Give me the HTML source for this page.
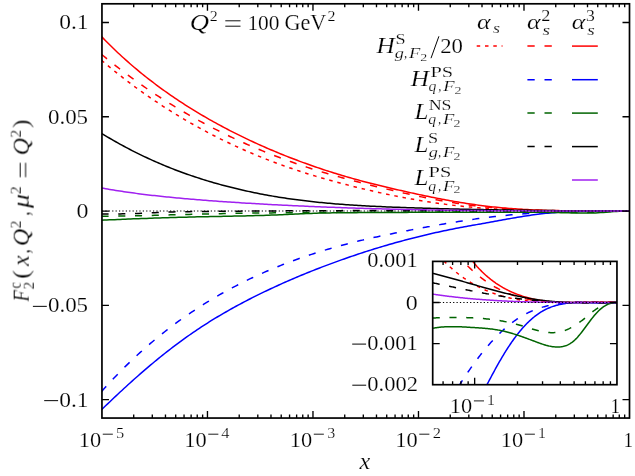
<!DOCTYPE html>
<html><head><meta charset="utf-8"><title>plot</title><style>html,body{margin:0;padding:0;background:#fff}svg{display:block}</style></head><body>
<svg width="635" height="476" viewBox="0 0 635 476">
<rect width="635" height="476" fill="#fff"/>
<defs><clipPath id="cm"><rect x="101.95" y="3.80" width="527.55" height="414.25"/></clipPath><clipPath id="ci"><rect x="432.70" y="261.40" width="184.25" height="123.30"/></clipPath></defs>
<g clip-path="url(#cm)" fill="none" stroke-width="1.50">
<path d="M101.50,60.25 L103.54,62.00 L105.58,63.72 L107.62,65.43 L109.65,67.12 L111.69,68.80 L113.73,70.46 L115.77,72.11 L117.81,73.74 L119.85,75.35 L121.89,76.95 L123.92,78.54 L125.96,80.11 L128.00,81.66 L130.04,83.21 L132.08,84.73 L134.12,86.24 L136.16,87.74 L138.19,89.23 L140.23,90.70 L142.27,92.16 L144.31,93.60 L146.35,95.03 L148.39,96.45 L150.43,97.85 L152.47,99.24 L154.50,100.62 L156.54,101.99 L158.58,103.34 L160.62,104.68 L162.66,106.01 L164.70,107.33 L166.74,108.63 L168.77,109.92 L170.81,111.20 L172.85,112.47 L174.89,113.72 L176.93,114.97 L178.97,116.20 L181.01,117.42 L183.04,118.63 L185.08,119.83 L187.12,121.02 L189.16,122.19 L191.20,123.36 L193.24,124.51 L195.28,125.66 L197.31,126.79 L199.35,127.91 L201.39,129.02 L203.43,130.12 L205.47,131.21 L207.51,132.29 L209.55,133.36 L211.58,134.42 L213.62,135.47 L215.66,136.50 L217.70,137.53 L219.74,138.55 L221.78,139.56 L223.82,140.56 L225.86,141.54 L227.89,142.52 L229.93,143.49 L231.97,144.45 L234.01,145.40 L236.05,146.34 L238.09,147.27 L240.13,148.19 L242.16,149.10 L244.20,150.01 L246.24,150.90 L248.28,151.78 L250.32,152.66 L252.36,153.53 L254.40,154.38 L256.43,155.23 L258.47,156.07 L260.51,156.90 L262.55,157.72 L264.59,158.53 L266.63,159.34 L268.67,160.13 L270.70,160.92 L272.74,161.70 L274.78,162.47 L276.82,163.23 L278.86,163.98 L280.90,164.72 L282.94,165.46 L284.97,166.19 L287.01,166.91 L289.05,167.62 L291.09,168.32 L293.13,169.01 L295.17,169.70 L297.21,170.38 L299.25,171.05 L301.28,171.71 L303.32,172.37 L305.36,173.02 L307.40,173.66 L309.44,174.29 L311.48,174.91 L313.52,175.53 L315.55,176.14 L317.59,176.74 L319.63,177.34 L321.67,177.93 L323.71,178.52 L325.75,179.09 L327.79,179.67 L329.82,180.24 L331.86,180.80 L333.90,181.35 L335.94,181.91 L337.98,182.45 L340.02,182.99 L342.06,183.53 L344.09,184.06 L346.13,184.59 L348.17,185.11 L350.21,185.63 L352.25,186.15 L354.29,186.66 L356.33,187.16 L358.36,187.66 L360.40,188.16 L362.44,188.65 L364.48,189.13 L366.52,189.62 L368.56,190.09 L370.60,190.57 L372.64,191.04 L374.67,191.50 L376.71,191.96 L378.75,192.41 L380.79,192.86 L382.83,193.31 L384.87,193.75 L386.91,194.18 L388.94,194.61 L390.98,195.04 L393.02,195.46 L395.06,195.87 L397.10,196.28 L399.14,196.69 L401.18,197.09 L403.21,197.48 L405.25,197.87 L407.29,198.25 L409.33,198.63 L411.37,199.00 L413.41,199.36 L415.45,199.72 L417.48,200.07 L419.52,200.42 L421.56,200.76 L423.60,201.10 L425.64,201.43 L427.68,201.75 L429.72,202.06 L431.75,202.37 L433.79,202.68 L435.83,202.98 L437.87,203.27 L439.91,203.55 L441.95,203.83 L443.99,204.10 L446.03,204.37 L448.06,204.63 L450.10,204.88 L452.14,205.12 L454.18,205.37 L456.22,205.60 L458.26,205.83 L460.30,206.05 L462.33,206.26 L464.37,206.47 L466.41,206.68 L468.45,206.87 L470.49,207.07 L472.53,207.25 L474.57,207.43 L476.60,207.61 L478.64,207.77 L480.68,207.94 L482.72,208.09 L484.76,208.24 L486.80,208.39 L488.84,208.53 L490.87,208.67 L492.91,208.80 L494.95,208.92 L496.99,209.04 L499.03,209.15 L501.07,209.26 L503.11,209.37 L505.14,209.47 L507.18,209.57 L509.22,209.66 L511.26,209.74 L513.30,209.83 L515.34,209.91 L517.38,209.98 L519.42,210.05 L521.45,210.12 L523.49,210.18 L525.53,210.24 L527.57,210.30 L529.61,210.35 L531.65,210.41 L533.69,210.45 L535.72,210.50 L537.76,210.54 L539.80,210.58 L541.84,210.62 L543.88,210.65 L545.92,210.68 L547.96,210.71 L549.99,210.74 L552.03,210.77 L554.07,210.79 L556.11,210.81 L558.15,210.83 L560.19,210.85 L562.23,210.87 L564.26,210.89 L566.30,210.93 L568.34,210.97 L570.38,211.00 L572.42,211.01 L574.46,211.03 L576.50,211.03 L578.53,211.04 L580.57,211.04 L582.61,211.05 L584.65,211.05 L586.69,211.05 L588.73,211.05 L590.77,211.05 L592.81,211.05 L594.84,211.05 L596.88,211.05 L598.92,211.05 L600.96,211.05 L603.00,211.05 L605.04,211.05 L607.08,211.05 L609.11,211.05 L611.15,211.05 L613.19,211.05 L615.23,211.05 L617.27,211.05 L619.31,211.05 L621.35,211.05 L623.38,211.05 L625.42,211.05 L627.46,211.05 L629.50,211.05" stroke="#ff0000" stroke-dasharray="3.5 4.87"/>
<path d="M101.50,54.32 L103.54,56.00 L105.58,57.68 L107.62,59.34 L109.65,60.98 L111.69,62.61 L113.73,64.23 L115.77,65.83 L117.81,67.42 L119.85,68.99 L121.89,70.55 L123.92,72.10 L125.96,73.63 L128.00,75.15 L130.04,76.66 L132.08,78.15 L134.12,79.63 L136.16,81.10 L138.19,82.55 L140.23,84.00 L142.27,85.43 L144.31,86.84 L146.35,88.25 L148.39,89.64 L150.43,91.02 L152.47,92.39 L154.50,93.75 L156.54,95.10 L158.58,96.43 L160.62,97.75 L162.66,99.06 L164.70,100.36 L166.74,101.65 L168.77,102.93 L170.81,104.20 L172.85,105.45 L174.89,106.70 L176.93,107.93 L178.97,109.15 L181.01,110.36 L183.04,111.57 L185.08,112.76 L187.12,113.94 L189.16,115.11 L191.20,116.27 L193.24,117.42 L195.28,118.56 L197.31,119.69 L199.35,120.81 L201.39,121.92 L203.43,123.02 L205.47,124.11 L207.51,125.19 L209.55,126.26 L211.58,127.32 L213.62,128.37 L215.66,129.41 L217.70,130.45 L219.74,131.47 L221.78,132.48 L223.82,133.49 L225.86,134.48 L227.89,135.47 L229.93,136.45 L231.97,137.42 L234.01,138.38 L236.05,139.33 L238.09,140.27 L240.13,141.20 L242.16,142.13 L244.20,143.04 L246.24,143.95 L248.28,144.85 L250.32,145.74 L252.36,146.62 L254.40,147.49 L256.43,148.35 L258.47,149.21 L260.51,150.06 L262.55,150.90 L264.59,151.73 L266.63,152.55 L268.67,153.37 L270.70,154.18 L272.74,154.97 L274.78,155.77 L276.82,156.55 L278.86,157.32 L280.90,158.09 L282.94,158.85 L284.97,159.60 L287.01,160.35 L289.05,161.08 L291.09,161.81 L293.13,162.53 L295.17,163.25 L297.21,163.95 L299.25,164.65 L301.28,165.34 L303.32,166.03 L305.36,166.70 L307.40,167.37 L309.44,168.04 L311.48,168.69 L313.52,169.34 L315.55,169.98 L317.59,170.61 L319.63,171.24 L321.67,171.86 L323.71,172.47 L325.75,173.08 L327.79,173.68 L329.82,174.27 L331.86,174.85 L333.90,175.43 L335.94,176.01 L337.98,176.58 L340.02,177.14 L342.06,177.70 L344.09,178.26 L346.13,178.81 L348.17,179.36 L350.21,179.90 L352.25,180.44 L354.29,180.97 L356.33,181.51 L358.36,182.03 L360.40,182.56 L362.44,183.08 L364.48,183.60 L366.52,184.12 L368.56,184.63 L370.60,185.15 L372.64,185.65 L374.67,186.16 L376.71,186.66 L378.75,187.16 L380.79,187.66 L382.83,188.15 L384.87,188.64 L386.91,189.13 L388.94,189.62 L390.98,190.10 L393.02,190.58 L395.06,191.06 L397.10,191.53 L399.14,192.00 L401.18,192.46 L403.21,192.92 L405.25,193.38 L407.29,193.84 L409.33,194.28 L411.37,194.73 L413.41,195.17 L415.45,195.61 L417.48,196.04 L419.52,196.47 L421.56,196.89 L423.60,197.31 L425.64,197.72 L427.68,198.12 L429.72,198.53 L431.75,198.92 L433.79,199.31 L435.83,199.69 L437.87,200.07 L439.91,200.44 L441.95,200.81 L443.99,201.16 L446.03,201.52 L448.06,201.86 L450.10,202.20 L452.14,202.53 L454.18,202.85 L456.22,203.17 L458.26,203.48 L460.30,203.78 L462.33,204.08 L464.37,204.37 L466.41,204.65 L468.45,204.92 L470.49,205.19 L472.53,205.45 L474.57,205.70 L476.60,205.94 L478.64,206.18 L480.68,206.41 L482.72,206.63 L484.76,206.85 L486.80,207.05 L488.84,207.26 L490.87,207.45 L492.91,207.64 L494.95,207.81 L496.99,207.99 L499.03,208.15 L501.07,208.31 L503.11,208.47 L505.14,208.61 L507.18,208.75 L509.22,208.89 L511.26,209.02 L513.30,209.14 L515.34,209.26 L517.38,209.37 L519.42,209.47 L521.45,209.57 L523.49,209.67 L525.53,209.76 L527.57,209.85 L529.61,209.93 L531.65,210.01 L533.69,210.08 L535.72,210.16 L537.76,210.22 L539.80,210.29 L541.84,210.35 L543.88,210.40 L545.92,210.46 L547.96,210.51 L549.99,210.56 L552.03,210.60 L554.07,210.64 L556.11,210.68 L558.15,210.72 L560.19,210.75 L562.23,210.78 L564.26,210.81 L566.30,210.84 L568.34,210.86 L570.38,210.88 L572.42,210.90 L574.46,210.95 L576.50,210.98 L578.53,211.01 L580.57,211.02 L582.61,211.03 L584.65,211.04 L586.69,211.04 L588.73,211.04 L590.77,211.05 L592.81,211.05 L594.84,211.05 L596.88,211.05 L598.92,211.05 L600.96,211.05 L603.00,211.05 L605.04,211.05 L607.08,211.05 L609.11,211.05 L611.15,211.05 L613.19,211.05 L615.23,211.05 L617.27,211.05 L619.31,211.05 L621.35,211.05 L623.38,211.05 L625.42,211.05 L627.46,211.05 L629.50,211.05" stroke="#ff0000" stroke-dasharray="7.1 9.65"/>
<path d="M101.50,36.53 L103.54,38.64 L105.58,40.73 L107.62,42.78 L109.65,44.81 L111.69,46.81 L113.73,48.79 L115.77,50.74 L117.81,52.67 L119.85,54.57 L121.89,56.44 L123.92,58.29 L125.96,60.12 L128.00,61.93 L130.04,63.71 L132.08,65.47 L134.12,67.21 L136.16,68.93 L138.19,70.63 L140.23,72.31 L142.27,73.97 L144.31,75.61 L146.35,77.23 L148.39,78.83 L150.43,80.41 L152.47,81.97 L154.50,83.52 L156.54,85.05 L158.58,86.56 L160.62,88.06 L162.66,89.53 L164.70,91.00 L166.74,92.44 L168.77,93.87 L170.81,95.29 L172.85,96.69 L174.89,98.07 L176.93,99.44 L178.97,100.79 L181.01,102.14 L183.04,103.46 L185.08,104.78 L187.12,106.08 L189.16,107.36 L191.20,108.63 L193.24,109.89 L195.28,111.14 L197.31,112.38 L199.35,113.60 L201.39,114.81 L203.43,116.01 L205.47,117.19 L207.51,118.37 L209.55,119.53 L211.58,120.68 L213.62,121.82 L215.66,122.95 L217.70,124.07 L219.74,125.18 L221.78,126.28 L223.82,127.36 L225.86,128.44 L227.89,129.50 L229.93,130.56 L231.97,131.60 L234.01,132.64 L236.05,133.67 L238.09,134.68 L240.13,135.69 L242.16,136.69 L244.20,137.67 L246.24,138.65 L248.28,139.62 L250.32,140.58 L252.36,141.53 L254.40,142.47 L256.43,143.41 L258.47,144.33 L260.51,145.25 L262.55,146.16 L264.59,147.05 L266.63,147.94 L268.67,148.83 L270.70,149.70 L272.74,150.56 L274.78,151.42 L276.82,152.27 L278.86,153.11 L280.90,153.94 L282.94,154.77 L284.97,155.59 L287.01,156.39 L289.05,157.20 L291.09,157.99 L293.13,158.78 L295.17,159.55 L297.21,160.32 L299.25,161.09 L301.28,161.84 L303.32,162.59 L305.36,163.33 L307.40,164.06 L309.44,164.79 L311.48,165.51 L313.52,166.22 L315.55,166.92 L317.59,167.62 L319.63,168.31 L321.67,168.99 L323.71,169.67 L325.75,170.34 L327.79,171.00 L329.82,171.65 L331.86,172.30 L333.90,172.94 L335.94,173.57 L337.98,174.20 L340.02,174.82 L342.06,175.43 L344.09,176.04 L346.13,176.64 L348.17,177.23 L350.21,177.81 L352.25,178.39 L354.29,178.96 L356.33,179.53 L358.36,180.09 L360.40,180.64 L362.44,181.19 L364.48,181.73 L366.52,182.26 L368.56,182.79 L370.60,183.31 L372.64,183.82 L374.67,184.33 L376.71,184.84 L378.75,185.34 L380.79,185.84 L382.83,186.33 L384.87,186.82 L386.91,187.30 L388.94,187.78 L390.98,188.26 L393.02,188.74 L395.06,189.21 L397.10,189.68 L399.14,190.14 L401.18,190.60 L403.21,191.06 L405.25,191.52 L407.29,191.97 L409.33,192.42 L411.37,192.87 L413.41,193.31 L415.45,193.75 L417.48,194.19 L419.52,194.63 L421.56,195.06 L423.60,195.48 L425.64,195.91 L427.68,196.33 L429.72,196.74 L431.75,197.16 L433.79,197.56 L435.83,197.97 L437.87,198.37 L439.91,198.76 L441.95,199.15 L443.99,199.54 L446.03,199.91 L448.06,200.29 L450.10,200.66 L452.14,201.02 L454.18,201.38 L456.22,201.73 L458.26,202.07 L460.30,202.41 L462.33,202.75 L464.37,203.07 L466.41,203.39 L468.45,203.70 L470.49,204.01 L472.53,204.31 L474.57,204.60 L476.60,204.88 L478.64,205.16 L480.68,205.43 L482.72,205.69 L484.76,205.94 L486.80,206.19 L488.84,206.43 L490.87,206.66 L492.91,206.89 L494.95,207.10 L496.99,207.31 L499.03,207.51 L501.07,207.71 L503.11,207.89 L505.14,208.07 L507.18,208.25 L509.22,208.41 L511.26,208.57 L513.30,208.72 L515.34,208.87 L517.38,209.00 L519.42,209.14 L521.45,209.26 L523.49,209.38 L525.53,209.49 L527.57,209.60 L529.61,209.70 L531.65,209.80 L533.69,209.89 L535.72,209.97 L537.76,210.05 L539.80,210.13 L541.84,210.20 L543.88,210.27 L545.92,210.33 L547.96,210.39 L549.99,210.44 L552.03,210.49 L554.07,210.54 L556.11,210.58 L558.15,210.62 L560.19,210.66 L562.23,210.70 L564.26,210.73 L566.30,210.76 L568.34,210.78 L570.38,210.81 L572.42,210.83 L574.46,210.85 L576.50,210.88 L578.53,210.94 L580.57,210.98 L582.61,211.00 L584.65,211.02 L586.69,211.03 L588.73,211.04 L590.77,211.04 L592.81,211.04 L594.84,211.05 L596.88,211.05 L598.92,211.05 L600.96,211.05 L603.00,211.05 L605.04,211.05 L607.08,211.05 L609.11,211.05 L611.15,211.05 L613.19,211.05 L615.23,211.05 L617.27,211.05 L619.31,211.05 L621.35,211.05 L623.38,211.05 L625.42,211.05 L627.46,211.05 L629.50,211.05" stroke="#ff0000"/>
<path d="M101.50,391.66 L103.54,389.37 L105.58,387.11 L107.62,384.87 L109.65,382.66 L111.69,380.47 L113.73,378.31 L115.77,376.17 L117.81,374.06 L119.85,371.98 L121.89,369.91 L123.92,367.88 L125.96,365.86 L128.00,363.87 L130.04,361.90 L132.08,359.96 L134.12,358.04 L136.16,356.14 L138.19,354.26 L140.23,352.40 L142.27,350.57 L144.31,348.76 L146.35,346.97 L148.39,345.19 L150.43,343.44 L152.47,341.71 L154.50,340.01 L156.54,338.32 L158.58,336.65 L160.62,334.99 L162.66,333.36 L164.70,331.75 L166.74,330.16 L168.77,328.58 L170.81,327.03 L172.85,325.49 L174.89,323.97 L176.93,322.46 L178.97,320.98 L181.01,319.51 L183.04,318.06 L185.08,316.63 L187.12,315.21 L189.16,313.81 L191.20,312.43 L193.24,311.06 L195.28,309.71 L197.31,308.37 L199.35,307.05 L201.39,305.75 L203.43,304.46 L205.47,303.18 L207.51,301.93 L209.55,300.68 L211.58,299.45 L213.62,298.24 L215.66,297.04 L217.70,295.85 L219.74,294.68 L221.78,293.52 L223.82,292.38 L225.86,291.25 L227.89,290.13 L229.93,289.03 L231.97,287.94 L234.01,286.86 L236.05,285.79 L238.09,284.74 L240.13,283.70 L242.16,282.68 L244.20,281.66 L246.24,280.66 L248.28,279.67 L250.32,278.69 L252.36,277.73 L254.40,276.77 L256.43,275.83 L258.47,274.90 L260.51,273.98 L262.55,273.07 L264.59,272.17 L266.63,271.28 L268.67,270.41 L270.70,269.54 L272.74,268.69 L274.78,267.84 L276.82,267.01 L278.86,266.19 L280.90,265.38 L282.94,264.57 L284.97,263.78 L287.01,263.00 L289.05,262.22 L291.09,261.46 L293.13,260.71 L295.17,259.96 L297.21,259.23 L299.25,258.50 L301.28,257.78 L303.32,257.08 L305.36,256.38 L307.40,255.69 L309.44,255.01 L311.48,254.34 L313.52,253.67 L315.55,253.02 L317.59,252.37 L319.63,251.73 L321.67,251.10 L323.71,250.48 L325.75,249.87 L327.79,249.26 L329.82,248.66 L331.86,248.07 L333.90,247.49 L335.94,246.92 L337.98,246.35 L340.02,245.79 L342.06,245.24 L344.09,244.69 L346.13,244.16 L348.17,243.63 L350.21,243.10 L352.25,242.59 L354.29,242.08 L356.33,241.58 L358.36,241.08 L360.40,240.59 L362.44,240.11 L364.48,239.63 L366.52,239.16 L368.56,238.70 L370.60,238.24 L372.64,237.79 L374.67,237.34 L376.71,236.90 L378.75,236.46 L380.79,236.02 L382.83,235.59 L384.87,235.16 L386.91,234.74 L388.94,234.32 L390.98,233.90 L393.02,233.48 L395.06,233.07 L397.10,232.66 L399.14,232.26 L401.18,231.85 L403.21,231.45 L405.25,231.05 L407.29,230.65 L409.33,230.26 L411.37,229.87 L413.41,229.48 L415.45,229.09 L417.48,228.71 L419.52,228.32 L421.56,227.94 L423.60,227.57 L425.64,227.19 L427.68,226.82 L429.72,226.45 L431.75,226.08 L433.79,225.71 L435.83,225.35 L437.87,224.99 L439.91,224.63 L441.95,224.28 L443.99,223.93 L446.03,223.58 L448.06,223.24 L450.10,222.90 L452.14,222.56 L454.18,222.23 L456.22,221.90 L458.26,221.58 L460.30,221.25 L462.33,220.94 L464.37,220.62 L466.41,220.32 L468.45,220.01 L470.49,219.71 L472.53,219.42 L474.57,219.13 L476.60,218.85 L478.64,218.57 L480.68,218.29 L482.72,218.02 L484.76,217.76 L486.80,217.50 L488.84,217.25 L490.87,217.00 L492.91,216.76 L494.95,216.53 L496.99,216.30 L499.03,216.07 L501.07,215.85 L503.11,215.64 L505.14,215.44 L507.18,215.23 L509.22,215.04 L511.26,214.85 L513.30,214.67 L515.34,214.49 L517.38,214.32 L519.42,214.15 L521.45,213.99 L523.49,213.84 L525.53,213.68 L527.57,213.53 L529.61,213.39 L531.65,213.24 L533.69,213.10 L535.72,212.97 L537.76,212.84 L539.80,212.71 L541.84,212.59 L543.88,212.47 L545.92,212.35 L547.96,212.24 L549.99,212.14 L552.03,212.04 L554.07,211.94 L556.11,211.85 L558.15,211.77 L560.19,211.69 L562.23,211.62 L564.26,211.55 L566.30,211.49 L568.34,211.43 L570.38,211.38 L572.42,211.34 L574.46,211.29 L576.50,211.26 L578.53,211.23 L580.57,211.20 L582.61,211.17 L584.65,211.15 L586.69,211.13 L588.73,211.12 L590.77,211.09 L592.81,211.08 L594.84,211.07 L596.88,211.06 L598.92,211.06 L600.96,211.06 L603.00,211.05 L605.04,211.05 L607.08,211.05 L609.11,211.05 L611.15,211.05 L613.19,211.05 L615.23,211.05 L617.27,211.05 L619.31,211.05 L621.35,211.05 L623.38,211.05 L625.42,211.05 L627.46,211.05 L629.50,211.05" stroke="#0000ff" stroke-dasharray="7.1 9.65"/>
<path d="M101.50,409.74 L103.54,407.77 L105.58,405.81 L107.62,403.86 L109.65,401.92 L111.69,399.98 L113.73,398.05 L115.77,396.13 L117.81,394.22 L119.85,392.32 L121.89,390.43 L123.92,388.55 L125.96,386.68 L128.00,384.82 L130.04,382.98 L132.08,381.14 L134.12,379.31 L136.16,377.50 L138.19,375.70 L140.23,373.91 L142.27,372.14 L144.31,370.38 L146.35,368.63 L148.39,366.89 L150.43,365.17 L152.47,363.47 L154.50,361.77 L156.54,360.09 L158.58,358.43 L160.62,356.78 L162.66,355.14 L164.70,353.52 L166.74,351.92 L168.77,350.33 L170.81,348.75 L172.85,347.19 L174.89,345.64 L176.93,344.11 L178.97,342.60 L181.01,341.10 L183.04,339.62 L185.08,338.15 L187.12,336.70 L189.16,335.26 L191.20,333.84 L193.24,332.43 L195.28,331.04 L197.31,329.67 L199.35,328.31 L201.39,326.96 L203.43,325.64 L205.47,324.32 L207.51,323.03 L209.55,321.74 L211.58,320.48 L213.62,319.22 L215.66,317.98 L217.70,316.75 L219.74,315.54 L221.78,314.34 L223.82,313.15 L225.86,311.98 L227.89,310.81 L229.93,309.66 L231.97,308.52 L234.01,307.39 L236.05,306.27 L238.09,305.16 L240.13,304.07 L242.16,302.98 L244.20,301.91 L246.24,300.84 L248.28,299.79 L250.32,298.74 L252.36,297.70 L254.40,296.68 L256.43,295.66 L258.47,294.65 L260.51,293.65 L262.55,292.66 L264.59,291.67 L266.63,290.70 L268.67,289.73 L270.70,288.77 L272.74,287.82 L274.78,286.88 L276.82,285.95 L278.86,285.02 L280.90,284.10 L282.94,283.19 L284.97,282.29 L287.01,281.39 L289.05,280.50 L291.09,279.62 L293.13,278.74 L295.17,277.87 L297.21,277.01 L299.25,276.15 L301.28,275.30 L303.32,274.46 L305.36,273.63 L307.40,272.80 L309.44,271.97 L311.48,271.16 L313.52,270.35 L315.55,269.54 L317.59,268.75 L319.63,267.96 L321.67,267.17 L323.71,266.39 L325.75,265.62 L327.79,264.85 L329.82,264.09 L331.86,263.34 L333.90,262.59 L335.94,261.85 L337.98,261.11 L340.02,260.38 L342.06,259.65 L344.09,258.93 L346.13,258.22 L348.17,257.51 L350.21,256.81 L352.25,256.12 L354.29,255.43 L356.33,254.74 L358.36,254.06 L360.40,253.39 L362.44,252.72 L364.48,252.06 L366.52,251.41 L368.56,250.76 L370.60,250.11 L372.64,249.48 L374.67,248.84 L376.71,248.22 L378.75,247.60 L380.79,246.98 L382.83,246.37 L384.87,245.77 L386.91,245.17 L388.94,244.58 L390.98,244.00 L393.02,243.42 L395.06,242.84 L397.10,242.27 L399.14,241.71 L401.18,241.16 L403.21,240.60 L405.25,240.06 L407.29,239.52 L409.33,238.99 L411.37,238.46 L413.41,237.94 L415.45,237.43 L417.48,236.92 L419.52,236.41 L421.56,235.91 L423.60,235.42 L425.64,234.94 L427.68,234.46 L429.72,233.98 L431.75,233.52 L433.79,233.05 L435.83,232.60 L437.87,232.15 L439.91,231.70 L441.95,231.26 L443.99,230.83 L446.03,230.40 L448.06,229.98 L450.10,229.57 L452.14,229.16 L454.18,228.76 L456.22,228.36 L458.26,227.97 L460.30,227.58 L462.33,227.20 L464.37,226.82 L466.41,226.45 L468.45,226.08 L470.49,225.72 L472.53,225.35 L474.57,224.99 L476.60,224.62 L478.64,224.26 L480.68,223.89 L482.72,223.53 L484.76,223.16 L486.80,222.79 L488.84,222.42 L490.87,222.06 L492.91,221.69 L494.95,221.32 L496.99,220.95 L499.03,220.58 L501.07,220.21 L503.11,219.84 L505.14,219.47 L507.18,219.11 L509.22,218.74 L511.26,218.38 L513.30,218.03 L515.34,217.68 L517.38,217.33 L519.42,216.99 L521.45,216.66 L523.49,216.33 L525.53,216.01 L527.57,215.70 L529.61,215.40 L531.65,215.11 L533.69,214.83 L535.72,214.56 L537.76,214.30 L539.80,214.05 L541.84,213.81 L543.88,213.59 L545.92,213.37 L547.96,213.17 L549.99,212.98 L552.03,212.80 L554.07,212.63 L556.11,212.48 L558.15,212.33 L560.19,212.20 L562.23,212.07 L564.26,211.96 L566.30,211.86 L568.34,211.76 L570.38,211.68 L572.42,211.60 L574.46,211.53 L576.50,211.47 L578.53,211.41 L580.57,211.36 L582.61,211.32 L584.65,211.28 L586.69,211.25 L588.73,211.22 L590.77,211.18 L592.81,211.14 L594.84,211.11 L596.88,211.09 L598.92,211.08 L600.96,211.07 L603.00,211.06 L605.04,211.06 L607.08,211.05 L609.11,211.05 L611.15,211.05 L613.19,211.05 L615.23,211.05 L617.27,211.05 L619.31,211.05 L621.35,211.05 L623.38,211.05 L625.42,211.05 L627.46,211.05 L629.50,211.05" stroke="#0000ff"/>
<path d="M101.50,216.20 L104.16,216.18 L106.81,216.15 L109.47,216.12 L112.12,216.09 L114.78,216.06 L117.43,216.03 L120.09,215.99 L122.74,215.95 L125.40,215.91 L128.05,215.87 L130.71,215.82 L133.36,215.78 L136.02,215.73 L138.67,215.68 L141.33,215.63 L143.99,215.58 L146.64,215.52 L149.30,215.45 L151.95,215.39 L154.61,215.32 L157.26,215.25 L159.92,215.18 L162.57,215.10 L165.23,215.02 L167.88,214.94 L170.54,214.86 L173.19,214.80 L175.85,214.73 L178.50,214.66 L181.16,214.60 L183.81,214.53 L186.47,214.47 L189.13,214.40 L191.78,214.33 L194.44,214.27 L197.09,214.20 L199.75,214.14 L202.40,214.08 L205.06,214.01 L207.71,213.95 L210.37,213.89 L213.02,213.83 L215.68,213.77 L218.33,213.71 L220.99,213.66 L223.64,213.60 L226.30,213.55 L228.96,213.49 L231.61,213.44 L234.27,213.39 L236.92,213.34 L239.58,213.30 L242.23,213.25 L244.89,213.21 L247.54,213.17 L250.20,213.13 L252.85,213.09 L255.51,213.05 L258.16,213.02 L260.82,212.99 L263.47,212.96 L266.13,212.93 L268.78,212.90 L271.44,212.88 L274.10,212.85 L276.75,212.82 L279.41,212.80 L282.06,212.77 L284.72,212.75 L287.37,212.72 L290.03,212.70 L292.68,212.68 L295.34,212.66 L297.99,212.64 L300.65,212.61 L303.30,212.59 L305.96,212.57 L308.61,212.55 L311.27,212.53 L313.93,212.52 L316.58,212.50 L319.24,212.48 L321.89,212.46 L324.55,212.45 L327.20,212.43 L329.86,212.41 L332.51,212.40 L335.17,212.38 L337.82,212.37 L340.48,212.35 L343.13,212.34 L345.79,212.32 L348.44,212.31 L351.10,212.29 L353.75,212.28 L356.41,212.27 L359.07,212.25 L361.72,212.24 L364.38,212.23 L367.03,212.22 L369.69,212.20 L372.34,212.19 L375.00,212.18 L377.65,212.17 L380.31,212.16 L382.96,212.15 L385.62,212.13 L388.27,212.12 L390.93,212.11 L393.58,212.10 L396.24,212.09 L398.90,212.08 L401.55,212.07 L404.21,212.06 L406.86,212.05 L409.52,212.04 L412.17,212.03 L414.83,212.02 L417.48,212.01 L420.14,212.00 L422.79,211.99 L425.45,211.98 L428.10,211.97 L430.76,211.96 L433.41,211.96 L436.07,211.95 L438.73,211.94 L441.38,211.93 L444.04,211.92 L446.69,211.91 L449.35,211.90 L452.00,211.89 L454.66,211.89 L457.31,211.88 L459.97,211.87 L462.62,211.86 L465.28,211.85 L467.93,211.84 L470.59,211.83 L473.24,211.83 L475.90,211.82 L478.55,211.81 L481.21,211.80 L483.87,211.79 L486.52,211.78 L489.18,211.78 L491.83,211.77 L494.49,211.76 L497.14,211.75 L499.80,211.74 L502.45,211.73 L505.11,211.72 L507.76,211.72 L510.42,211.72 L513.07,211.73 L515.73,211.74 L518.38,211.75 L521.04,211.76 L523.70,211.77 L526.35,211.78 L529.01,211.79 L531.66,211.80 L534.32,211.81 L536.97,211.84 L539.63,211.86 L542.28,211.89 L544.94,211.92 L547.59,211.95 L550.25,211.99 L552.90,212.03 L555.56,212.06 L558.21,212.11 L560.87,212.15 L563.52,212.20 L566.18,212.25 L568.84,212.29 L571.49,212.33 L574.15,212.37 L576.80,212.40 L579.46,212.42 L582.11,212.43 L584.77,212.42 L587.42,212.40 L590.08,212.36 L592.73,212.30 L595.39,212.23 L598.04,212.14 L600.70,212.03 L603.35,211.89 L606.01,211.75 L608.67,211.61 L611.32,211.47 L613.98,211.34 L616.63,211.23 L619.29,211.16 L621.94,211.10 L624.60,211.07 L627.25,211.05 L629.91,211.05" stroke="#006400" stroke-dasharray="7.1 9.65"/>
<path d="M101.50,220.20 L104.16,220.08 L106.81,219.97 L109.47,219.85 L112.12,219.74 L114.78,219.63 L117.43,219.52 L120.09,219.41 L122.74,219.30 L125.40,219.19 L128.05,219.08 L130.71,218.98 L133.36,218.87 L136.02,218.77 L138.67,218.67 L141.33,218.57 L143.99,218.47 L146.64,218.38 L149.30,218.28 L151.95,218.19 L154.61,218.09 L157.26,218.00 L159.92,217.91 L162.57,217.83 L165.23,217.74 L167.88,217.66 L170.54,217.58 L173.19,217.50 L175.85,217.42 L178.50,217.34 L181.16,217.27 L183.81,217.20 L186.47,217.13 L189.13,217.06 L191.78,217.00 L194.44,216.93 L197.09,216.87 L199.75,216.82 L202.40,216.76 L205.06,216.70 L207.71,216.65 L210.37,216.59 L213.02,216.54 L215.68,216.49 L218.33,216.43 L220.99,216.38 L223.64,216.33 L226.30,216.28 L228.96,216.22 L231.61,216.17 L234.27,216.12 L236.92,216.06 L239.58,216.00 L242.23,215.94 L244.89,215.88 L247.54,215.82 L250.20,215.76 L252.85,215.69 L255.51,215.62 L258.16,215.55 L260.82,215.48 L263.47,215.39 L266.13,215.31 L268.78,215.21 L271.44,215.11 L274.10,215.00 L276.75,214.89 L279.41,214.77 L282.06,214.65 L284.72,214.53 L287.37,214.41 L290.03,214.29 L292.68,214.16 L295.34,214.04 L297.99,213.92 L300.65,213.81 L303.30,213.69 L305.96,213.58 L308.61,213.48 L311.27,213.38 L313.93,213.28 L316.58,213.20 L319.24,213.12 L321.89,213.05 L324.55,212.99 L327.20,212.94 L329.86,212.90 L332.51,212.87 L335.17,212.84 L337.82,212.81 L340.48,212.78 L343.13,212.76 L345.79,212.73 L348.44,212.71 L351.10,212.68 L353.75,212.66 L356.41,212.64 L359.07,212.62 L361.72,212.60 L364.38,212.58 L367.03,212.56 L369.69,212.54 L372.34,212.53 L375.00,212.51 L377.65,212.50 L380.31,212.48 L382.96,212.47 L385.62,212.46 L388.27,212.45 L390.93,212.43 L393.58,212.42 L396.24,212.41 L398.90,212.40 L401.55,212.39 L404.21,212.39 L406.86,212.38 L409.52,212.37 L412.17,212.36 L414.83,212.36 L417.48,212.35 L420.14,212.34 L422.79,212.34 L425.45,212.33 L428.10,212.32 L430.76,212.32 L433.41,212.31 L436.07,212.31 L438.73,212.30 L441.38,212.30 L444.04,212.29 L446.69,212.29 L449.35,212.28 L452.00,212.28 L454.66,212.28 L457.31,212.27 L459.97,212.27 L462.62,212.26 L465.28,212.26 L467.93,212.25 L470.59,212.25 L473.24,212.24 L475.90,212.24 L478.55,212.23 L481.21,212.23 L483.87,212.22 L486.52,212.21 L489.18,212.21 L491.83,212.20 L494.49,212.19 L497.14,212.19 L499.80,212.18 L502.45,212.17 L505.11,212.16 L507.76,212.16 L510.42,212.16 L513.07,212.16 L515.73,212.17 L518.38,212.18 L521.04,212.20 L523.70,212.21 L526.35,212.22 L529.01,212.22 L531.66,212.22 L534.32,212.23 L536.97,212.25 L539.63,212.29 L542.28,212.33 L544.94,212.37 L547.59,212.41 L550.25,212.45 L552.90,212.49 L555.56,212.54 L558.21,212.59 L560.87,212.64 L563.52,212.70 L566.18,212.77 L568.84,212.84 L571.49,212.91 L574.15,212.97 L576.80,213.02 L579.46,213.06 L582.11,213.08 L584.77,213.09 L587.42,213.08 L590.08,213.06 L592.73,212.99 L595.39,212.90 L598.04,212.78 L600.70,212.62 L603.35,212.44 L606.01,212.22 L608.67,211.98 L611.32,211.76 L613.98,211.55 L616.63,211.38 L619.29,211.23 L621.94,211.14 L624.60,211.09 L627.25,211.06 L629.91,211.05" stroke="#006400"/>
<path d="M101.50,214.10 L104.16,214.10 L106.81,214.08 L109.47,214.06 L112.12,214.03 L114.78,214.00 L117.43,213.96 L120.09,213.91 L122.74,213.86 L125.40,213.80 L128.05,213.75 L130.71,213.68 L133.36,213.62 L136.02,213.55 L138.67,213.47 L141.33,213.37 L143.99,213.24 L146.64,213.09 L149.30,212.93 L151.95,212.78 L154.61,212.64 L157.26,212.52 L159.92,212.39 L162.57,212.27 L165.23,212.16 L167.88,212.05 L170.54,211.96 L173.19,211.90 L175.85,211.84 L178.50,211.79 L181.16,211.74 L183.81,211.70 L186.47,211.66 L189.13,211.63 L191.78,211.59 L194.44,211.56 L197.09,211.53 L199.75,211.50 L202.40,211.47 L205.06,211.45 L207.71,211.42 L210.37,211.39 L213.02,211.36 L215.68,211.34 L218.33,211.31 L220.99,211.29 L223.64,211.27 L226.30,211.24 L228.96,211.22 L231.61,211.20 L234.27,211.18 L236.92,211.16 L239.58,211.14 L242.23,211.12 L244.89,211.10 L247.54,211.08 L250.20,211.06 L252.85,211.04 L255.51,211.03 L258.16,211.01 L260.82,211.00 L263.47,210.98 L266.13,210.96 L268.78,210.95 L271.44,210.94 L274.10,210.92 L276.75,210.91 L279.41,210.89 L282.06,210.88 L284.72,210.87 L287.37,210.85 L290.03,210.84 L292.68,210.83 L295.34,210.82 L297.99,210.80 L300.65,210.79 L303.30,210.78 L305.96,210.77 L308.61,210.76 L311.27,210.75 L313.93,210.74 L316.58,210.73 L319.24,210.71 L321.89,210.70 L324.55,210.69 L327.20,210.68 L329.86,210.67 L332.51,210.66 L335.17,210.65 L337.82,210.64 L340.48,210.63 L343.13,210.62 L345.79,210.62 L348.44,210.61 L351.10,210.60 L353.75,210.59 L356.41,210.58 L359.07,210.57 L361.72,210.56 L364.38,210.55 L367.03,210.54 L369.69,210.53 L372.34,210.52 L375.00,210.51 L377.65,210.50 L380.31,210.49 L382.96,210.48 L385.62,210.47 L388.27,210.45 L390.93,210.44 L393.58,210.43 L396.24,210.42 L398.90,210.41 L401.55,210.40 L404.21,210.39 L406.86,210.38 L409.52,210.37 L412.17,210.36 L414.83,210.35 L417.48,210.34 L420.14,210.34 L422.79,210.33 L425.45,210.32 L428.10,210.31 L430.76,210.30 L433.41,210.29 L436.07,210.28 L438.73,210.28 L441.38,210.27 L444.04,210.26 L446.69,210.25 L449.35,210.25 L452.00,210.24 L454.66,210.23 L457.31,210.23 L459.97,210.22 L462.62,210.22 L465.28,210.21 L467.93,210.21 L470.59,210.20 L473.24,210.20 L475.90,210.20 L478.55,210.19 L481.21,210.19 L483.87,210.19 L486.52,210.19 L489.18,210.18 L491.83,210.18 L494.49,210.18 L497.14,210.19 L499.80,210.21 L502.45,210.25 L505.11,210.29 L507.76,210.32 L510.42,210.36 L513.07,210.39 L515.73,210.43 L518.38,210.46 L521.04,210.50 L523.70,210.53 L526.35,210.56 L529.01,210.59 L531.66,210.62 L534.32,210.65 L536.97,210.69 L539.63,210.72 L542.28,210.75 L544.94,210.78 L547.59,210.81 L550.25,210.84 L552.90,210.86 L555.56,210.88 L558.21,210.90 L560.87,210.92 L563.52,210.94 L566.18,210.96 L568.84,210.98 L571.49,210.99 L574.15,211.01 L576.80,211.02 L579.46,211.03 L582.11,211.03 L584.77,211.04 L587.42,211.05 L590.08,211.05 L592.73,211.05 L595.39,211.05 L598.04,211.05 L600.70,211.05 L603.35,211.05 L606.01,211.05 L608.67,211.05 L611.32,211.05 L613.98,211.05 L616.63,211.05 L619.29,211.05 L621.94,211.05 L624.60,211.05 L627.25,211.05 L629.91,211.05" stroke="#000000" stroke-dasharray="7.1 9.65"/>
<path d="M101.50,133.33 L103.54,134.58 L105.58,135.81 L107.62,137.03 L109.65,138.23 L111.69,139.42 L113.73,140.60 L115.77,141.76 L117.81,142.91 L119.85,144.04 L121.89,145.16 L123.92,146.26 L125.96,147.35 L128.00,148.43 L130.04,149.50 L132.08,150.55 L134.12,151.58 L136.16,152.61 L138.19,153.62 L140.23,154.62 L142.27,155.60 L144.31,156.57 L146.35,157.53 L148.39,158.48 L150.43,159.42 L152.47,160.34 L154.50,161.25 L156.54,162.14 L158.58,163.03 L160.62,163.90 L162.66,164.76 L164.70,165.61 L166.74,166.45 L168.77,167.27 L170.81,168.09 L172.85,168.89 L174.89,169.68 L176.93,170.46 L178.97,171.23 L181.01,171.99 L183.04,172.73 L185.08,173.47 L187.12,174.19 L189.16,174.91 L191.20,175.61 L193.24,176.30 L195.28,176.99 L197.31,177.66 L199.35,178.32 L201.39,178.97 L203.43,179.61 L205.47,180.25 L207.51,180.87 L209.55,181.48 L211.58,182.08 L213.62,182.68 L215.66,183.26 L217.70,183.83 L219.74,184.40 L221.78,184.95 L223.82,185.50 L225.86,186.04 L227.89,186.57 L229.93,187.09 L231.97,187.60 L234.01,188.10 L236.05,188.60 L238.09,189.08 L240.13,189.56 L242.16,190.03 L244.20,190.49 L246.24,190.94 L248.28,191.39 L250.32,191.83 L252.36,192.26 L254.40,192.68 L256.43,193.09 L258.47,193.50 L260.51,193.90 L262.55,194.29 L264.59,194.67 L266.63,195.05 L268.67,195.42 L270.70,195.78 L272.74,196.13 L274.78,196.48 L276.82,196.82 L278.86,197.15 L280.90,197.47 L282.94,197.79 L284.97,198.10 L287.01,198.41 L289.05,198.70 L291.09,198.99 L293.13,199.28 L295.17,199.55 L297.21,199.83 L299.25,200.09 L301.28,200.35 L303.32,200.60 L305.36,200.84 L307.40,201.08 L309.44,201.32 L311.48,201.55 L313.52,201.77 L315.55,201.99 L317.59,202.20 L319.63,202.41 L321.67,202.61 L323.71,202.80 L325.75,202.99 L327.79,203.18 L329.82,203.36 L331.86,203.54 L333.90,203.71 L335.94,203.88 L337.98,204.04 L340.02,204.20 L342.06,204.35 L344.09,204.50 L346.13,204.65 L348.17,204.79 L350.21,204.93 L352.25,205.07 L354.29,205.20 L356.33,205.33 L358.36,205.45 L360.40,205.57 L362.44,205.69 L364.48,205.80 L366.52,205.91 L368.56,206.02 L370.60,206.13 L372.64,206.23 L374.67,206.33 L376.71,206.43 L378.75,206.52 L380.79,206.61 L382.83,206.70 L384.87,206.79 L386.91,206.88 L388.94,206.96 L390.98,207.05 L393.02,207.13 L395.06,207.21 L397.10,207.29 L399.14,207.36 L401.18,207.44 L403.21,207.51 L405.25,207.58 L407.29,207.65 L409.33,207.72 L411.37,207.79 L413.41,207.86 L415.45,207.92 L417.48,207.99 L419.52,208.05 L421.56,208.11 L423.60,208.17 L425.64,208.23 L427.68,208.29 L429.72,208.35 L431.75,208.41 L433.79,208.46 L435.83,208.52 L437.87,208.57 L439.91,208.63 L441.95,208.68 L443.99,208.73 L446.03,208.79 L448.06,208.84 L450.10,208.89 L452.14,208.94 L454.18,208.99 L456.22,209.03 L458.26,209.08 L460.30,209.13 L462.33,209.17 L464.37,209.22 L466.41,209.27 L468.45,209.31 L470.49,209.35 L472.53,209.40 L474.57,209.44 L476.60,209.48 L478.64,209.52 L480.68,209.56 L482.72,209.60 L484.76,209.64 L486.80,209.68 L488.84,209.72 L490.87,209.76 L492.91,209.79 L494.95,209.83 L496.99,209.86 L499.03,209.90 L501.07,209.93 L503.11,209.97 L505.14,210.00 L507.18,210.03 L509.22,210.07 L511.26,210.10 L513.30,210.13 L515.34,210.16 L517.38,210.19 L519.42,210.22 L521.45,210.25 L523.49,210.27 L525.53,210.30 L527.57,210.33 L529.61,210.35 L531.65,210.38 L533.69,210.40 L535.72,210.43 L537.76,210.45 L539.80,210.48 L541.84,210.50 L543.88,210.52 L545.92,210.54 L547.96,210.56 L549.99,210.58 L552.03,210.60 L554.07,210.62 L556.11,210.64 L558.15,210.66 L560.19,210.67 L562.23,210.69 L564.26,210.71 L566.30,210.72 L568.34,210.74 L570.38,210.75 L572.42,210.77 L574.46,210.78 L576.50,210.79 L578.53,210.81 L580.57,210.82 L582.61,210.83 L584.65,210.85 L586.69,210.92 L588.73,210.96 L590.77,210.99 L592.81,211.01 L594.84,211.02 L596.88,211.03 L598.92,211.04 L600.96,211.04 L603.00,211.04 L605.04,211.05 L607.08,211.05 L609.11,211.05 L611.15,211.05 L613.19,211.05 L615.23,211.05 L617.27,211.05 L619.31,211.05 L621.35,211.05 L623.38,211.05 L625.42,211.05 L627.46,211.05 L629.50,211.05" stroke="#000000"/>
<path d="M101.50,187.93 L103.54,188.31 L105.58,188.67 L107.62,189.04 L109.65,189.39 L111.69,189.74 L113.73,190.07 L115.77,190.41 L117.81,190.73 L119.85,191.05 L121.89,191.36 L123.92,191.67 L125.96,191.97 L128.00,192.26 L130.04,192.55 L132.08,192.83 L134.12,193.11 L136.16,193.38 L138.19,193.64 L140.23,193.91 L142.27,194.16 L144.31,194.42 L146.35,194.66 L148.39,194.91 L150.43,195.15 L152.47,195.38 L154.50,195.61 L156.54,195.84 L158.58,196.06 L160.62,196.28 L162.66,196.50 L164.70,196.71 L166.74,196.92 L168.77,197.12 L170.81,197.33 L172.85,197.53 L174.89,197.72 L176.93,197.91 L178.97,198.10 L181.01,198.29 L183.04,198.48 L185.08,198.66 L187.12,198.84 L189.16,199.01 L191.20,199.19 L193.24,199.36 L195.28,199.53 L197.31,199.70 L199.35,199.86 L201.39,200.02 L203.43,200.18 L205.47,200.34 L207.51,200.50 L209.55,200.65 L211.58,200.80 L213.62,200.95 L215.66,201.10 L217.70,201.25 L219.74,201.39 L221.78,201.54 L223.82,201.68 L225.86,201.82 L227.89,201.96 L229.93,202.09 L231.97,202.23 L234.01,202.36 L236.05,202.49 L238.09,202.62 L240.13,202.75 L242.16,202.88 L244.20,203.00 L246.24,203.13 L248.28,203.25 L250.32,203.37 L252.36,203.49 L254.40,203.61 L256.43,203.73 L258.47,203.85 L260.51,203.96 L262.55,204.07 L264.59,204.19 L266.63,204.30 L268.67,204.41 L270.70,204.52 L272.74,204.63 L274.78,204.73 L276.82,204.84 L278.86,204.94 L280.90,205.05 L282.94,205.15 L284.97,205.25 L287.01,205.35 L289.05,205.45 L291.09,205.55 L293.13,205.64 L295.17,205.74 L297.21,205.83 L299.25,205.93 L301.28,206.02 L303.32,206.11 L305.36,206.20 L307.40,206.29 L309.44,206.38 L311.48,206.47 L313.52,206.55 L315.55,206.64 L317.59,206.72 L319.63,206.81 L321.67,206.89 L323.71,206.97 L325.75,207.05 L327.79,207.13 L329.82,207.21 L331.86,207.29 L333.90,207.36 L335.94,207.44 L337.98,207.52 L340.02,207.59 L342.06,207.66 L344.09,207.73 L346.13,207.81 L348.17,207.88 L350.21,207.94 L352.25,208.01 L354.29,208.08 L356.33,208.15 L358.36,208.21 L360.40,208.28 L362.44,208.34 L364.48,208.40 L366.52,208.46 L368.56,208.53 L370.60,208.59 L372.64,208.64 L374.67,208.70 L376.71,208.76 L378.75,208.82 L380.79,208.87 L382.83,208.93 L384.87,208.98 L386.91,209.03 L388.94,209.08 L390.98,209.13 L393.02,209.18 L395.06,209.23 L397.10,209.28 L399.14,209.33 L401.18,209.38 L403.21,209.42 L405.25,209.47 L407.29,209.51 L409.33,209.55 L411.37,209.59 L413.41,209.64 L415.45,209.68 L417.48,209.72 L419.52,209.76 L421.56,209.79 L423.60,209.83 L425.64,209.87 L427.68,209.90 L429.72,209.94 L431.75,209.97 L433.79,210.01 L435.83,210.04 L437.87,210.07 L439.91,210.10 L441.95,210.13 L443.99,210.16 L446.03,210.19 L448.06,210.22 L450.10,210.25 L452.14,210.27 L454.18,210.30 L456.22,210.33 L458.26,210.35 L460.30,210.38 L462.33,210.40 L464.37,210.42 L466.41,210.44 L468.45,210.47 L470.49,210.49 L472.53,210.51 L474.57,210.53 L476.60,210.55 L478.64,210.57 L480.68,210.58 L482.72,210.60 L484.76,210.62 L486.80,210.64 L488.84,210.65 L490.87,210.67 L492.91,210.68 L494.95,210.70 L496.99,210.71 L499.03,210.73 L501.07,210.74 L503.11,210.75 L505.14,210.77 L507.18,210.78 L509.22,210.79 L511.26,210.80 L513.30,210.81 L515.34,210.82 L517.38,210.83 L519.42,210.84 L521.45,210.85 L523.49,210.86 L525.53,210.87 L527.57,210.88 L529.61,210.88 L531.65,210.89 L533.69,210.90 L535.72,210.91 L537.76,210.91 L539.80,210.92 L541.84,210.93 L543.88,210.93 L545.92,210.94 L547.96,210.94 L549.99,210.95 L552.03,210.95 L554.07,210.96 L556.11,210.96 L558.15,210.97 L560.19,210.97 L562.23,210.98 L564.26,211.00 L566.30,211.02 L568.34,211.03 L570.38,211.04 L572.42,211.04 L574.46,211.04 L576.50,211.05 L578.53,211.05 L580.57,211.05 L582.61,211.05 L584.65,211.05 L586.69,211.05 L588.73,211.05 L590.77,211.05 L592.81,211.05 L594.84,211.05 L596.88,211.05 L598.92,211.05 L600.96,211.05 L603.00,211.05 L605.04,211.05 L607.08,211.05 L609.11,211.05 L611.15,211.05 L613.19,211.05 L615.23,211.05 L617.27,211.05 L619.31,211.05 L621.35,211.05 L623.38,211.05 L625.42,211.05 L627.46,211.05 L629.50,211.05" stroke="#a020f0"/>
<path d="M101.95,211.05 H629.50" stroke="#000" stroke-width="1.1" stroke-dasharray="1.25 2.15"/>
</g>
<path d="M133.71,418.05 v-3.50 M133.71,3.80 v3.50 M152.29,418.05 v-3.50 M152.29,3.80 v3.50 M165.47,418.05 v-3.50 M165.47,3.80 v3.50 M175.70,418.05 v-3.50 M175.70,3.80 v3.50 M184.05,418.05 v-3.50 M184.05,3.80 v3.50 M191.12,418.05 v-3.50 M191.12,3.80 v3.50 M197.24,418.05 v-3.50 M197.24,3.80 v3.50 M202.63,418.05 v-3.50 M202.63,3.80 v3.50 M207.46,418.05 v-7.00 M207.46,3.80 v7.00 M239.22,418.05 v-3.50 M239.22,3.80 v3.50 M257.80,418.05 v-3.50 M257.80,3.80 v3.50 M270.98,418.05 v-3.50 M270.98,3.80 v3.50 M281.21,418.05 v-3.50 M281.21,3.80 v3.50 M289.56,418.05 v-3.50 M289.56,3.80 v3.50 M296.63,418.05 v-3.50 M296.63,3.80 v3.50 M302.75,418.05 v-3.50 M302.75,3.80 v3.50 M308.14,418.05 v-3.50 M308.14,3.80 v3.50 M312.97,418.05 v-7.00 M312.97,3.80 v7.00 M344.73,418.05 v-3.50 M344.73,3.80 v3.50 M363.31,418.05 v-3.50 M363.31,3.80 v3.50 M376.49,418.05 v-3.50 M376.49,3.80 v3.50 M386.72,418.05 v-3.50 M386.72,3.80 v3.50 M395.07,418.05 v-3.50 M395.07,3.80 v3.50 M402.14,418.05 v-3.50 M402.14,3.80 v3.50 M408.26,418.05 v-3.50 M408.26,3.80 v3.50 M413.65,418.05 v-3.50 M413.65,3.80 v3.50 M418.48,418.05 v-7.00 M418.48,3.80 v7.00 M450.24,418.05 v-3.50 M450.24,3.80 v3.50 M468.82,418.05 v-3.50 M468.82,3.80 v3.50 M482.00,418.05 v-3.50 M482.00,3.80 v3.50 M492.23,418.05 v-3.50 M492.23,3.80 v3.50 M500.58,418.05 v-3.50 M500.58,3.80 v3.50 M507.65,418.05 v-3.50 M507.65,3.80 v3.50 M513.77,418.05 v-3.50 M513.77,3.80 v3.50 M519.16,418.05 v-3.50 M519.16,3.80 v3.50 M523.99,418.05 v-7.00 M523.99,3.80 v7.00 M555.75,418.05 v-3.50 M555.75,3.80 v3.50 M574.33,418.05 v-3.50 M574.33,3.80 v3.50 M587.51,418.05 v-3.50 M587.51,3.80 v3.50 M597.74,418.05 v-3.50 M597.74,3.80 v3.50 M606.09,418.05 v-3.50 M606.09,3.80 v3.50 M613.16,418.05 v-3.50 M613.16,3.80 v3.50 M619.28,418.05 v-3.50 M619.28,3.80 v3.50 M624.67,418.05 v-3.50 M624.67,3.80 v3.50 M101.95,399.65 h7.00 M629.50,399.65 h-7.00 M101.95,305.35 h7.00 M629.50,305.35 h-7.00 M101.95,211.05 h7.00 M629.50,211.05 h-7.00 M101.95,116.75 h7.00 M629.50,116.75 h-7.00 M101.95,22.45 h7.00 M629.50,22.45 h-7.00" stroke="#000" stroke-width="1.35" fill="none"/>
<rect x="101.95" y="3.80" width="527.55" height="414.25" fill="none" stroke="#000" stroke-width="1.70"/>
<rect x="432.70" y="261.40" width="184.25" height="123.30" fill="#fff"/>
<g clip-path="url(#ci)" fill="none" stroke-width="1.50">
<path d="M432.70,248.41 L433.63,249.54 L434.56,250.66 L435.49,251.76 L436.41,252.84 L437.34,253.91 L438.27,254.96 L439.20,255.99 L440.13,257.01 L441.06,258.02 L441.99,259.00 L442.92,259.97 L443.84,260.93 L444.77,261.87 L445.70,262.79 L446.63,263.71 L447.56,264.60 L448.49,265.48 L449.42,266.35 L450.34,267.20 L451.27,268.04 L452.20,268.86 L453.13,269.67 L454.06,270.46 L454.99,271.24 L455.92,272.01 L456.84,272.76 L457.77,273.50 L458.70,274.23 L459.63,274.95 L460.56,275.65 L461.49,276.34 L462.42,277.01 L463.35,277.67 L464.27,278.33 L465.20,278.96 L466.13,279.59 L467.06,280.21 L467.99,280.81 L468.92,281.40 L469.85,281.98 L470.77,282.55 L471.70,283.11 L472.63,283.65 L473.56,284.19 L474.49,284.71 L475.42,285.22 L476.35,285.73 L477.27,286.22 L478.20,286.70 L479.13,287.18 L480.06,287.64 L480.99,288.09 L481.92,288.53 L482.85,288.97 L483.78,289.39 L484.70,289.81 L485.63,290.21 L486.56,290.61 L487.49,291.00 L488.42,291.38 L489.35,291.75 L490.28,292.11 L491.20,292.46 L492.13,292.81 L493.06,293.15 L493.99,293.48 L494.92,293.80 L495.85,294.12 L496.78,294.42 L497.71,294.72 L498.63,295.02 L499.56,295.30 L500.49,295.58 L501.42,295.85 L502.35,296.12 L503.28,296.37 L504.21,296.62 L505.13,296.87 L506.06,297.10 L506.99,297.34 L507.92,297.56 L508.85,297.78 L509.78,297.99 L510.71,298.19 L511.63,298.39 L512.56,298.59 L513.49,298.77 L514.42,298.96 L515.35,299.13 L516.28,299.30 L517.21,299.47 L518.14,299.62 L519.06,299.78 L519.99,299.93 L520.92,300.07 L521.85,300.21 L522.78,300.34 L523.71,300.46 L524.64,300.59 L525.56,300.70 L526.49,300.82 L527.42,300.93 L528.35,301.03 L529.28,301.13 L530.21,301.22 L531.14,301.31 L532.06,301.40 L532.99,301.48 L533.92,301.56 L534.85,301.63 L535.78,301.70 L536.71,301.77 L537.64,301.83 L538.57,301.89 L539.49,301.94 L540.42,301.99 L541.35,302.04 L542.28,302.09 L543.21,302.13 L544.14,302.17 L545.07,302.20 L545.99,302.23 L546.92,302.26 L547.85,302.29 L548.78,302.31 L549.71,302.34 L550.64,302.35 L551.57,302.37 L552.49,302.38 L553.42,302.40 L554.35,302.41 L555.28,302.41 L556.21,302.42 L557.14,302.42 L558.07,302.42 L559.00,302.42 L559.92,302.42 L560.85,302.42 L561.78,302.41 L562.71,302.40 L563.64,302.40 L564.57,302.39 L565.50,302.38 L566.42,302.36 L567.35,302.35 L568.28,302.34 L569.21,302.32 L570.14,302.31 L571.07,302.29 L572.00,302.28 L572.93,302.26 L573.85,302.24 L574.78,302.22 L575.71,302.21 L576.64,302.19 L577.57,302.17 L578.50,302.15 L579.43,302.13 L580.35,302.11 L581.28,302.10 L582.21,302.08 L583.14,302.06 L584.07,302.04 L585.00,302.03 L585.93,302.01 L586.85,302.00 L587.78,301.99 L588.71,301.97 L589.64,301.96 L590.57,301.95 L591.50,301.94 L592.43,301.93 L593.36,301.93 L594.28,301.92 L595.21,301.92 L596.14,301.92 L597.07,301.91 L598.00,301.92 L598.93,301.92 L599.86,301.92 L600.78,301.93 L601.71,301.94 L602.64,301.95 L603.57,301.97 L604.50,301.98 L605.43,302.00 L606.36,302.02 L607.28,302.05 L608.21,302.07 L609.14,302.10 L610.07,302.14 L611.00,302.17 L611.93,302.21 L612.86,302.25 L613.79,302.30 L614.71,302.34 L615.64,302.39 L616.57,302.45 L617.50,302.51" stroke="#ff0000" stroke-dasharray="3.5 4.87"/>
<path d="M446.00,240.12 L446.86,241.33 L447.72,242.52 L448.59,243.69 L449.45,244.85 L450.31,245.99 L451.17,247.12 L452.03,248.24 L452.89,249.33 L453.76,250.42 L454.62,251.49 L455.48,252.54 L456.34,253.58 L457.20,254.61 L458.07,255.62 L458.93,256.62 L459.79,257.60 L460.65,258.57 L461.51,259.53 L462.37,260.47 L463.24,261.40 L464.10,262.32 L464.96,263.22 L465.82,264.11 L466.68,264.98 L467.55,265.84 L468.41,266.69 L469.27,267.53 L470.13,268.35 L470.99,269.16 L471.85,269.96 L472.72,270.74 L473.58,271.51 L474.44,272.27 L475.30,273.02 L476.16,273.75 L477.03,274.48 L477.89,275.19 L478.75,275.89 L479.61,276.58 L480.47,277.25 L481.33,277.91 L482.20,278.57 L483.06,279.21 L483.92,279.84 L484.78,280.46 L485.64,281.06 L486.51,281.66 L487.37,282.25 L488.23,282.82 L489.09,283.38 L489.95,283.94 L490.81,284.48 L491.68,285.01 L492.54,285.53 L493.40,286.04 L494.26,286.55 L495.12,287.04 L495.98,287.52 L496.85,287.99 L497.71,288.45 L498.57,288.90 L499.43,289.35 L500.29,289.78 L501.16,290.20 L502.02,290.62 L502.88,291.02 L503.74,291.42 L504.60,291.81 L505.46,292.19 L506.33,292.56 L507.19,292.92 L508.05,293.27 L508.91,293.61 L509.77,293.95 L510.64,294.28 L511.50,294.59 L512.36,294.91 L513.22,295.21 L514.08,295.50 L514.94,295.79 L515.81,296.07 L516.67,296.34 L517.53,296.61 L518.39,296.86 L519.25,297.11 L520.12,297.36 L520.98,297.59 L521.84,297.82 L522.70,298.04 L523.56,298.26 L524.42,298.46 L525.29,298.67 L526.15,298.86 L527.01,299.05 L527.87,299.23 L528.73,299.41 L529.60,299.58 L530.46,299.74 L531.32,299.90 L532.18,300.05 L533.04,300.20 L533.90,300.34 L534.77,300.47 L535.63,300.60 L536.49,300.72 L537.35,300.84 L538.21,300.96 L539.08,301.07 L539.94,301.17 L540.80,301.27 L541.66,301.36 L542.52,301.45 L543.38,301.54 L544.25,301.62 L545.11,301.69 L545.97,301.76 L546.83,301.83 L547.69,301.90 L548.56,301.96 L549.42,302.01 L550.28,302.06 L551.14,302.11 L552.00,302.16 L552.86,302.20 L553.73,302.23 L554.59,302.27 L555.45,302.30 L556.31,302.33 L557.17,302.35 L558.04,302.38 L558.90,302.40 L559.76,302.41 L560.62,302.43 L561.48,302.44 L562.34,302.45 L563.21,302.45 L564.07,302.46 L564.93,302.46 L565.79,302.46 L566.65,302.46 L567.52,302.46 L568.38,302.45 L569.24,302.45 L570.10,302.44 L570.96,302.43 L571.82,302.42 L572.69,302.40 L573.55,302.39 L574.41,302.38 L575.27,302.36 L576.13,302.35 L576.99,302.33 L577.86,302.31 L578.72,302.29 L579.58,302.28 L580.44,302.26 L581.30,302.24 L582.17,302.22 L583.03,302.20 L583.89,302.18 L584.75,302.16 L585.61,302.14 L586.47,302.12 L587.34,302.11 L588.20,302.09 L589.06,302.07 L589.92,302.05 L590.78,302.04 L591.65,302.02 L592.51,302.01 L593.37,302.00 L594.23,301.99 L595.09,301.98 L595.95,301.97 L596.82,301.96 L597.68,301.96 L598.54,301.95 L599.40,301.95 L600.26,301.95 L601.13,301.95 L601.99,301.96 L602.85,301.97 L603.71,301.97 L604.57,301.98 L605.43,302.00 L606.30,302.01 L607.16,302.03 L608.02,302.05 L608.88,302.08 L609.74,302.11 L610.61,302.14 L611.47,302.17 L612.33,302.21 L613.19,302.25 L614.05,302.29 L614.91,302.34 L615.78,302.39 L616.64,302.45 L617.50,302.50" stroke="#ff0000" stroke-dasharray="7.1 9.65"/>
<path d="M457.00,236.41 L457.81,237.98 L458.61,239.51 L459.42,241.01 L460.23,242.47 L461.03,243.90 L461.84,245.30 L462.65,246.67 L463.45,248.01 L464.26,249.32 L465.07,250.60 L465.87,251.85 L466.68,253.07 L467.48,254.26 L468.29,255.43 L469.10,256.57 L469.90,257.69 L470.71,258.77 L471.52,259.84 L472.32,260.88 L473.13,261.90 L473.94,262.89 L474.74,263.86 L475.55,264.81 L476.36,265.74 L477.16,266.65 L477.97,267.53 L478.78,268.40 L479.58,269.25 L480.39,270.08 L481.20,270.90 L482.00,271.69 L482.81,272.47 L483.62,273.24 L484.42,273.98 L485.23,274.72 L486.04,275.44 L486.84,276.14 L487.65,276.83 L488.45,277.51 L489.26,278.18 L490.07,278.83 L490.87,279.47 L491.68,280.09 L492.49,280.71 L493.29,281.31 L494.10,281.90 L494.91,282.47 L495.71,283.04 L496.52,283.59 L497.33,284.13 L498.13,284.66 L498.94,285.18 L499.75,285.69 L500.55,286.19 L501.36,286.67 L502.17,287.15 L502.97,287.61 L503.78,288.07 L504.59,288.51 L505.39,288.95 L506.20,289.37 L507.01,289.79 L507.81,290.19 L508.62,290.59 L509.42,290.98 L510.23,291.36 L511.04,291.73 L511.84,292.09 L512.65,292.44 L513.46,292.79 L514.26,293.13 L515.07,293.46 L515.88,293.78 L516.68,294.09 L517.49,294.40 L518.30,294.70 L519.10,294.99 L519.91,295.28 L520.72,295.56 L521.52,295.83 L522.33,296.09 L523.14,296.35 L523.94,296.60 L524.75,296.85 L525.56,297.08 L526.36,297.31 L527.17,297.54 L527.97,297.76 L528.78,297.97 L529.59,298.18 L530.39,298.38 L531.20,298.57 L532.01,298.76 L532.81,298.94 L533.62,299.12 L534.43,299.29 L535.23,299.46 L536.04,299.62 L536.85,299.77 L537.65,299.92 L538.46,300.06 L539.27,300.20 L540.07,300.34 L540.88,300.47 L541.69,300.59 L542.49,300.71 L543.30,300.83 L544.11,300.94 L544.91,301.04 L545.72,301.14 L546.53,301.24 L547.33,301.33 L548.14,301.42 L548.94,301.50 L549.75,301.58 L550.56,301.66 L551.36,301.73 L552.17,301.80 L552.98,301.87 L553.78,301.93 L554.59,301.99 L555.40,302.04 L556.20,302.09 L557.01,302.14 L557.82,302.18 L558.62,302.22 L559.43,302.26 L560.24,302.30 L561.04,302.33 L561.85,302.36 L562.66,302.39 L563.46,302.41 L564.27,302.43 L565.08,302.45 L565.88,302.47 L566.69,302.48 L567.49,302.50 L568.30,302.51 L569.11,302.52 L569.91,302.52 L570.72,302.53 L571.53,302.53 L572.33,302.53 L573.14,302.53 L573.95,302.53 L574.75,302.52 L575.56,302.52 L576.37,302.51 L577.17,302.51 L577.98,302.50 L578.79,302.49 L579.59,302.48 L580.40,302.47 L581.21,302.46 L582.01,302.44 L582.82,302.43 L583.63,302.42 L584.43,302.40 L585.24,302.39 L586.05,302.37 L586.85,302.36 L587.66,302.34 L588.46,302.33 L589.27,302.31 L590.08,302.30 L590.88,302.29 L591.69,302.27 L592.50,302.26 L593.30,302.24 L594.11,302.23 L594.92,302.22 L595.72,302.21 L596.53,302.20 L597.34,302.19 L598.14,302.18 L598.95,302.17 L599.76,302.17 L600.56,302.16 L601.37,302.16 L602.18,302.16 L602.98,302.16 L603.79,302.16 L604.60,302.16 L605.40,302.16 L606.21,302.17 L607.02,302.18 L607.82,302.19 L608.63,302.20 L609.43,302.22 L610.24,302.23 L611.05,302.25 L611.85,302.27 L612.66,302.30 L613.47,302.32 L614.27,302.35 L615.08,302.38 L615.89,302.42 L616.69,302.46 L617.50,302.50" stroke="#ff0000"/>
<path d="M450.00,400.80 L450.84,399.36 L451.68,397.92 L452.53,396.49 L453.37,395.07 L454.21,393.67 L455.05,392.27 L455.89,390.88 L456.73,389.50 L457.58,388.13 L458.42,386.78 L459.26,385.43 L460.10,384.09 L460.94,382.76 L461.78,381.45 L462.63,380.14 L463.47,378.84 L464.31,377.56 L465.15,376.28 L465.99,375.02 L466.83,373.76 L467.68,372.52 L468.52,371.28 L469.36,370.06 L470.20,368.85 L471.04,367.65 L471.88,366.46 L472.73,365.27 L473.57,364.10 L474.41,362.95 L475.25,361.80 L476.09,360.66 L476.93,359.53 L477.78,358.42 L478.62,357.31 L479.46,356.22 L480.30,355.14 L481.14,354.06 L481.98,353.00 L482.83,351.95 L483.67,350.92 L484.51,349.89 L485.35,348.87 L486.19,347.87 L487.04,346.87 L487.88,345.89 L488.72,344.92 L489.56,343.96 L490.40,343.01 L491.24,342.08 L492.09,341.15 L492.93,340.24 L493.77,339.34 L494.61,338.45 L495.45,337.57 L496.29,336.70 L497.14,335.84 L497.98,335.00 L498.82,334.17 L499.66,333.35 L500.50,332.54 L501.34,331.74 L502.19,330.96 L503.03,330.19 L503.87,329.43 L504.71,328.68 L505.55,327.94 L506.39,327.22 L507.24,326.50 L508.08,325.80 L508.92,325.12 L509.76,324.44 L510.60,323.78 L511.44,323.13 L512.29,322.49 L513.13,321.86 L513.97,321.25 L514.81,320.64 L515.65,320.05 L516.49,319.48 L517.34,318.91 L518.18,318.36 L519.02,317.82 L519.86,317.29 L520.70,316.78 L521.55,316.27 L522.39,315.78 L523.23,315.30 L524.07,314.83 L524.91,314.38 L525.75,313.93 L526.60,313.49 L527.44,313.07 L528.28,312.66 L529.12,312.25 L529.96,311.86 L530.80,311.48 L531.65,311.11 L532.49,310.74 L533.33,310.39 L534.17,310.05 L535.01,309.72 L535.85,309.40 L536.70,309.08 L537.54,308.78 L538.38,308.48 L539.22,308.20 L540.06,307.92 L540.90,307.65 L541.75,307.39 L542.59,307.14 L543.43,306.90 L544.27,306.67 L545.11,306.44 L545.95,306.22 L546.80,306.01 L547.64,305.81 L548.48,305.61 L549.32,305.43 L550.16,305.24 L551.01,305.07 L551.85,304.91 L552.69,304.75 L553.53,304.59 L554.37,304.45 L555.21,304.31 L556.06,304.17 L556.90,304.05 L557.74,303.93 L558.58,303.81 L559.42,303.70 L560.26,303.60 L561.11,303.50 L561.95,303.41 L562.79,303.32 L563.63,303.24 L564.47,303.16 L565.31,303.09 L566.16,303.02 L567.00,302.96 L567.84,302.90 L568.68,302.85 L569.52,302.80 L570.36,302.75 L571.21,302.71 L572.05,302.67 L572.89,302.64 L573.73,302.60 L574.57,302.58 L575.41,302.55 L576.26,302.53 L577.10,302.51 L577.94,302.50 L578.78,302.48 L579.62,302.47 L580.46,302.47 L581.31,302.46 L582.15,302.46 L582.99,302.46 L583.83,302.46 L584.67,302.46 L585.52,302.46 L586.36,302.47 L587.20,302.48 L588.04,302.49 L588.88,302.49 L589.72,302.50 L590.57,302.52 L591.41,302.53 L592.25,302.54 L593.09,302.55 L593.93,302.57 L594.77,302.58 L595.62,302.59 L596.46,302.61 L597.30,302.62 L598.14,302.63 L598.98,302.64 L599.82,302.65 L600.67,302.67 L601.51,302.67 L602.35,302.68 L603.19,302.69 L604.03,302.70 L604.87,302.70 L605.72,302.70 L606.56,302.71 L607.40,302.71 L608.24,302.70 L609.08,302.70 L609.92,302.69 L610.77,302.68 L611.61,302.67 L612.45,302.66 L613.29,302.64 L614.13,302.62 L614.97,302.59 L615.82,302.57 L616.66,302.54 L617.50,302.50" stroke="#0000ff" stroke-dasharray="7.1 9.65"/>
<path d="M478.00,402.00 L478.70,400.65 L479.40,399.30 L480.10,397.94 L480.80,396.59 L481.51,395.23 L482.21,393.88 L482.91,392.52 L483.61,391.17 L484.31,389.82 L485.01,388.47 L485.71,387.12 L486.41,385.78 L487.11,384.44 L487.81,383.10 L488.52,381.77 L489.22,380.44 L489.92,379.11 L490.62,377.79 L491.32,376.48 L492.02,375.17 L492.72,373.86 L493.42,372.57 L494.12,371.28 L494.82,369.99 L495.53,368.72 L496.23,367.45 L496.93,366.19 L497.63,364.94 L498.33,363.70 L499.03,362.46 L499.73,361.24 L500.43,360.03 L501.13,358.82 L501.83,357.63 L502.54,356.45 L503.24,355.28 L503.94,354.12 L504.64,352.98 L505.34,351.84 L506.04,350.72 L506.74,349.61 L507.44,348.51 L508.14,347.43 L508.84,346.36 L509.55,345.30 L510.25,344.25 L510.95,343.22 L511.65,342.20 L512.35,341.20 L513.05,340.21 L513.75,339.23 L514.45,338.27 L515.15,337.32 L515.85,336.39 L516.56,335.47 L517.26,334.57 L517.96,333.67 L518.66,332.80 L519.36,331.93 L520.06,331.08 L520.76,330.25 L521.46,329.42 L522.16,328.61 L522.86,327.82 L523.57,327.04 L524.27,326.27 L524.97,325.52 L525.67,324.78 L526.37,324.05 L527.07,323.34 L527.77,322.64 L528.47,321.96 L529.17,321.29 L529.87,320.63 L530.58,319.99 L531.28,319.36 L531.98,318.75 L532.68,318.14 L533.38,317.55 L534.08,316.98 L534.78,316.42 L535.48,315.87 L536.18,315.34 L536.88,314.82 L537.59,314.31 L538.29,313.82 L538.99,313.34 L539.69,312.87 L540.39,312.42 L541.09,311.98 L541.79,311.56 L542.49,311.15 L543.19,310.75 L543.89,310.36 L544.60,309.99 L545.30,309.63 L546.00,309.28 L546.70,308.94 L547.40,308.62 L548.10,308.30 L548.80,308.00 L549.50,307.71 L550.20,307.43 L550.90,307.16 L551.61,306.90 L552.31,306.65 L553.01,306.40 L553.71,306.17 L554.41,305.95 L555.11,305.74 L555.81,305.53 L556.51,305.33 L557.21,305.15 L557.91,304.97 L558.62,304.79 L559.32,304.63 L560.02,304.47 L560.72,304.32 L561.42,304.18 L562.12,304.04 L562.82,303.91 L563.52,303.79 L564.22,303.68 L564.92,303.57 L565.63,303.47 L566.33,303.37 L567.03,303.28 L567.73,303.19 L568.43,303.12 L569.13,303.04 L569.83,302.97 L570.53,302.91 L571.23,302.85 L571.93,302.80 L572.64,302.75 L573.34,302.71 L574.04,302.67 L574.74,302.64 L575.44,302.61 L576.14,302.58 L576.84,302.56 L577.54,302.54 L578.24,302.53 L578.94,302.51 L579.65,302.51 L580.35,302.50 L581.05,302.50 L581.75,302.50 L582.45,302.50 L583.15,302.50 L583.85,302.51 L584.55,302.52 L585.25,302.53 L585.95,302.55 L586.66,302.56 L587.36,302.58 L588.06,302.60 L588.76,302.61 L589.46,302.63 L590.16,302.66 L590.86,302.68 L591.56,302.70 L592.26,302.72 L592.96,302.74 L593.67,302.77 L594.37,302.79 L595.07,302.81 L595.77,302.84 L596.47,302.86 L597.17,302.88 L597.87,302.90 L598.57,302.92 L599.27,302.94 L599.97,302.95 L600.68,302.97 L601.38,302.98 L602.08,302.99 L602.78,303.00 L603.48,303.01 L604.18,303.02 L604.88,303.02 L605.58,303.02 L606.28,303.02 L606.98,303.02 L607.69,303.01 L608.39,303.00 L609.09,302.98 L609.79,302.97 L610.49,302.94 L611.19,302.92 L611.89,302.89 L612.59,302.86 L613.29,302.82 L613.99,302.78 L614.70,302.73 L615.40,302.68 L616.10,302.62 L616.80,302.56 L617.50,302.50" stroke="#0000ff"/>
<path d="M432.70,317.98 L433.63,317.95 L434.56,317.92 L435.49,317.89 L436.41,317.86 L437.34,317.83 L438.27,317.80 L439.20,317.78 L440.13,317.75 L441.06,317.73 L441.99,317.70 L442.92,317.68 L443.84,317.66 L444.77,317.64 L445.70,317.62 L446.63,317.60 L447.56,317.58 L448.49,317.57 L449.42,317.55 L450.34,317.54 L451.27,317.53 L452.20,317.52 L453.13,317.52 L454.06,317.51 L454.99,317.51 L455.92,317.50 L456.84,317.50 L457.77,317.51 L458.70,317.51 L459.63,317.52 L460.56,317.52 L461.49,317.53 L462.42,317.55 L463.35,317.56 L464.27,317.58 L465.20,317.60 L466.13,317.62 L467.06,317.65 L467.99,317.68 L468.92,317.71 L469.85,317.74 L470.77,317.78 L471.70,317.81 L472.63,317.86 L473.56,317.90 L474.49,317.95 L475.42,318.00 L476.35,318.05 L477.27,318.11 L478.20,318.17 L479.13,318.24 L480.06,318.30 L480.99,318.37 L481.92,318.45 L482.85,318.53 L483.78,318.61 L484.70,318.69 L485.63,318.78 L486.56,318.88 L487.49,318.97 L488.42,319.07 L489.35,319.18 L490.28,319.29 L491.20,319.40 L492.13,319.52 L493.06,319.64 L493.99,319.76 L494.92,319.89 L495.85,320.03 L496.78,320.17 L497.71,320.31 L498.63,320.46 L499.56,320.61 L500.49,320.77 L501.42,320.93 L502.35,321.10 L503.28,321.27 L504.21,321.45 L505.13,321.63 L506.06,321.81 L506.99,322.01 L507.92,322.20 L508.85,322.41 L509.78,322.61 L510.71,322.83 L511.63,323.05 L512.56,323.27 L513.49,323.50 L514.42,323.73 L515.35,323.98 L516.28,324.22 L517.21,324.47 L518.14,324.73 L519.06,325.00 L519.99,325.27 L520.92,325.54 L521.85,325.82 L522.78,326.10 L523.71,326.39 L524.64,326.68 L525.56,326.97 L526.49,327.26 L527.42,327.55 L528.35,327.84 L529.28,328.13 L530.21,328.42 L531.14,328.70 L532.06,328.98 L532.99,329.26 L533.92,329.53 L534.85,329.79 L535.78,330.05 L536.71,330.30 L537.64,330.54 L538.57,330.78 L539.49,331.00 L540.42,331.21 L541.35,331.41 L542.28,331.60 L543.21,331.78 L544.14,331.94 L545.07,332.09 L545.99,332.22 L546.92,332.34 L547.85,332.44 L548.78,332.52 L549.71,332.59 L550.64,332.64 L551.57,332.66 L552.49,332.67 L553.42,332.65 L554.35,332.62 L555.28,332.56 L556.21,332.48 L557.14,332.37 L558.07,332.24 L559.00,332.08 L559.92,331.90 L560.85,331.69 L561.78,331.45 L562.71,331.19 L563.64,330.90 L564.57,330.58 L565.50,330.24 L566.42,329.87 L567.35,329.49 L568.28,329.07 L569.21,328.64 L570.14,328.18 L571.07,327.69 L572.00,327.19 L572.93,326.66 L573.85,326.11 L574.78,325.55 L575.71,324.96 L576.64,324.35 L577.57,323.72 L578.50,323.07 L579.43,322.40 L580.35,321.72 L581.28,321.02 L582.21,320.30 L583.14,319.56 L584.07,318.81 L585.00,318.05 L585.93,317.28 L586.85,316.50 L587.78,315.72 L588.71,314.95 L589.64,314.18 L590.57,313.42 L591.50,312.67 L592.43,311.93 L593.36,311.21 L594.28,310.51 L595.21,309.84 L596.14,309.19 L597.07,308.57 L598.00,307.97 L598.93,307.41 L599.86,306.87 L600.78,306.36 L601.71,305.88 L602.64,305.43 L603.57,305.01 L604.50,304.62 L605.43,304.26 L606.36,303.93 L607.28,303.64 L608.21,303.37 L609.14,303.14 L610.07,302.94 L611.00,302.77 L611.93,302.63 L612.86,302.53 L613.79,302.47 L614.71,302.43 L615.64,302.43 L616.57,302.47 L617.50,302.54" stroke="#006400" stroke-dasharray="7.1 9.65"/>
<path d="M432.70,328.29 L433.63,328.12 L434.56,327.96 L435.49,327.81 L436.41,327.67 L437.34,327.54 L438.27,327.42 L439.20,327.31 L440.13,327.21 L441.06,327.12 L441.99,327.04 L442.92,326.97 L443.84,326.90 L444.77,326.84 L445.70,326.79 L446.63,326.75 L447.56,326.72 L448.49,326.69 L449.42,326.67 L450.34,326.65 L451.27,326.64 L452.20,326.64 L453.13,326.64 L454.06,326.65 L454.99,326.66 L455.92,326.68 L456.84,326.70 L457.77,326.73 L458.70,326.76 L459.63,326.79 L460.56,326.83 L461.49,326.87 L462.42,326.91 L463.35,326.96 L464.27,327.00 L465.20,327.05 L466.13,327.10 L467.06,327.16 L467.99,327.21 L468.92,327.26 L469.85,327.32 L470.77,327.38 L471.70,327.43 L472.63,327.49 L473.56,327.54 L474.49,327.60 L475.42,327.65 L476.35,327.71 L477.27,327.77 L478.20,327.83 L479.13,327.89 L480.06,327.96 L480.99,328.02 L481.92,328.09 L482.85,328.16 L483.78,328.24 L484.70,328.32 L485.63,328.40 L486.56,328.49 L487.49,328.58 L488.42,328.68 L489.35,328.78 L490.28,328.88 L491.20,328.99 L492.13,329.11 L493.06,329.24 L493.99,329.37 L494.92,329.50 L495.85,329.65 L496.78,329.80 L497.71,329.96 L498.63,330.12 L499.56,330.30 L500.49,330.48 L501.42,330.67 L502.35,330.87 L503.28,331.08 L504.21,331.29 L505.13,331.52 L506.06,331.75 L506.99,331.99 L507.92,332.24 L508.85,332.49 L509.78,332.75 L510.71,333.02 L511.63,333.29 L512.56,333.57 L513.49,333.85 L514.42,334.14 L515.35,334.44 L516.28,334.74 L517.21,335.04 L518.14,335.35 L519.06,335.66 L519.99,335.98 L520.92,336.30 L521.85,336.63 L522.78,336.95 L523.71,337.29 L524.64,337.62 L525.56,337.96 L526.49,338.30 L527.42,338.64 L528.35,338.98 L529.28,339.33 L530.21,339.67 L531.14,340.02 L532.06,340.37 L532.99,340.72 L533.92,341.07 L534.85,341.42 L535.78,341.77 L536.71,342.11 L537.64,342.46 L538.57,342.80 L539.49,343.13 L540.42,343.46 L541.35,343.78 L542.28,344.09 L543.21,344.39 L544.14,344.68 L545.07,344.96 L545.99,345.23 L546.92,345.48 L547.85,345.71 L548.78,345.94 L549.71,346.14 L550.64,346.33 L551.57,346.49 L552.49,346.64 L553.42,346.76 L554.35,346.87 L555.28,346.94 L556.21,347.00 L557.14,347.03 L558.07,347.03 L559.00,347.00 L559.92,346.94 L560.85,346.84 L561.78,346.71 L562.71,346.55 L563.64,346.34 L564.57,346.09 L565.50,345.79 L566.42,345.45 L567.35,345.07 L568.28,344.63 L569.21,344.14 L570.14,343.60 L571.07,343.00 L572.00,342.34 L572.93,341.63 L573.85,340.85 L574.78,340.01 L575.71,339.10 L576.64,338.15 L577.57,337.14 L578.50,336.08 L579.43,334.98 L580.35,333.85 L581.28,332.68 L582.21,331.49 L583.14,330.27 L584.07,329.03 L585.00,327.78 L585.93,326.52 L586.85,325.26 L587.78,324.00 L588.71,322.74 L589.64,321.49 L590.57,320.25 L591.50,319.04 L592.43,317.84 L593.36,316.68 L594.28,315.55 L595.21,314.45 L596.14,313.40 L597.07,312.39 L598.00,311.43 L598.93,310.53 L599.86,309.67 L600.78,308.86 L601.71,308.10 L602.64,307.38 L603.57,306.72 L604.50,306.11 L605.43,305.54 L606.36,305.02 L607.28,304.56 L608.21,304.13 L609.14,303.76 L610.07,303.44 L611.00,303.16 L611.93,302.93 L612.86,302.75 L613.79,302.62 L614.71,302.53 L615.64,302.49 L616.57,302.50 L617.50,302.56" stroke="#006400"/>
<path d="M432.70,282.79 L433.63,282.98 L434.56,283.18 L435.49,283.37 L436.41,283.57 L437.34,283.76 L438.27,283.96 L439.20,284.15 L440.13,284.35 L441.06,284.54 L441.99,284.74 L442.92,284.93 L443.84,285.13 L444.77,285.33 L445.70,285.52 L446.63,285.72 L447.56,285.91 L448.49,286.11 L449.42,286.30 L450.34,286.50 L451.27,286.69 L452.20,286.89 L453.13,287.08 L454.06,287.28 L454.99,287.47 L455.92,287.67 L456.84,287.86 L457.77,288.05 L458.70,288.24 L459.63,288.44 L460.56,288.63 L461.49,288.82 L462.42,289.01 L463.35,289.20 L464.27,289.39 L465.20,289.58 L466.13,289.77 L467.06,289.95 L467.99,290.14 L468.92,290.33 L469.85,290.51 L470.77,290.70 L471.70,290.88 L472.63,291.07 L473.56,291.25 L474.49,291.43 L475.42,291.61 L476.35,291.79 L477.27,291.97 L478.20,292.15 L479.13,292.33 L480.06,292.50 L480.99,292.68 L481.92,292.85 L482.85,293.02 L483.78,293.20 L484.70,293.37 L485.63,293.54 L486.56,293.71 L487.49,293.87 L488.42,294.04 L489.35,294.20 L490.28,294.37 L491.20,294.53 L492.13,294.69 L493.06,294.85 L493.99,295.01 L494.92,295.17 L495.85,295.32 L496.78,295.48 L497.71,295.63 L498.63,295.78 L499.56,295.93 L500.49,296.08 L501.42,296.22 L502.35,296.37 L503.28,296.51 L504.21,296.65 L505.13,296.79 L506.06,296.93 L506.99,297.07 L507.92,297.21 L508.85,297.34 L509.78,297.47 L510.71,297.60 L511.63,297.73 L512.56,297.86 L513.49,297.98 L514.42,298.11 L515.35,298.23 L516.28,298.35 L517.21,298.47 L518.14,298.59 L519.06,298.71 L519.99,298.82 L520.92,298.93 L521.85,299.05 L522.78,299.16 L523.71,299.26 L524.64,299.37 L525.56,299.48 L526.49,299.58 L527.42,299.68 L528.35,299.78 L529.28,299.88 L530.21,299.98 L531.14,300.08 L532.06,300.17 L532.99,300.26 L533.92,300.36 L534.85,300.45 L535.78,300.53 L536.71,300.62 L537.64,300.71 L538.57,300.79 L539.49,300.87 L540.42,300.95 L541.35,301.03 L542.28,301.11 L543.21,301.19 L544.14,301.26 L545.07,301.33 L545.99,301.40 L546.92,301.47 L547.85,301.54 L548.78,301.61 L549.71,301.68 L550.64,301.74 L551.57,301.80 L552.49,301.86 L553.42,301.92 L554.35,301.98 L555.28,302.04 L556.21,302.09 L557.14,302.15 L558.07,302.20 L559.00,302.25 L559.92,302.30 L560.85,302.34 L561.78,302.39 L562.71,302.44 L563.64,302.48 L564.57,302.52 L565.50,302.56 L566.42,302.60 L567.35,302.64 L568.28,302.67 L569.21,302.71 L570.14,302.74 L571.07,302.77 L572.00,302.80 L572.93,302.83 L573.85,302.85 L574.78,302.88 L575.71,302.90 L576.64,302.93 L577.57,302.95 L578.50,302.97 L579.43,302.98 L580.35,303.00 L581.28,303.02 L582.21,303.03 L583.14,303.04 L584.07,303.05 L585.00,303.06 L585.93,303.07 L586.85,303.08 L587.78,303.08 L588.71,303.08 L589.64,303.09 L590.57,303.09 L591.50,303.09 L592.43,303.08 L593.36,303.08 L594.28,303.08 L595.21,303.07 L596.14,303.06 L597.07,303.05 L598.00,303.04 L598.93,303.03 L599.86,303.02 L600.78,303.00 L601.71,302.99 L602.64,302.97 L603.57,302.95 L604.50,302.93 L605.43,302.91 L606.36,302.88 L607.28,302.86 L608.21,302.83 L609.14,302.80 L610.07,302.78 L611.00,302.74 L611.93,302.71 L612.86,302.68 L613.79,302.65 L614.71,302.61 L615.64,302.57 L616.57,302.53 L617.50,302.49" stroke="#000000" stroke-dasharray="7.1 9.65"/>
<path d="M432.70,273.37 L433.63,273.59 L434.56,273.82 L435.49,274.05 L436.41,274.28 L437.34,274.52 L438.27,274.75 L439.20,274.99 L440.13,275.23 L441.06,275.47 L441.99,275.71 L442.92,275.95 L443.84,276.20 L444.77,276.44 L445.70,276.69 L446.63,276.94 L447.56,277.19 L448.49,277.44 L449.42,277.70 L450.34,277.95 L451.27,278.21 L452.20,278.46 L453.13,278.72 L454.06,278.98 L454.99,279.24 L455.92,279.50 L456.84,279.76 L457.77,280.02 L458.70,280.28 L459.63,280.55 L460.56,280.81 L461.49,281.07 L462.42,281.34 L463.35,281.60 L464.27,281.87 L465.20,282.13 L466.13,282.40 L467.06,282.67 L467.99,282.93 L468.92,283.20 L469.85,283.47 L470.77,283.73 L471.70,284.00 L472.63,284.27 L473.56,284.53 L474.49,284.80 L475.42,285.06 L476.35,285.33 L477.27,285.60 L478.20,285.86 L479.13,286.13 L480.06,286.39 L480.99,286.65 L481.92,286.92 L482.85,287.18 L483.78,287.44 L484.70,287.70 L485.63,287.96 L486.56,288.22 L487.49,288.48 L488.42,288.74 L489.35,288.99 L490.28,289.25 L491.20,289.50 L492.13,289.76 L493.06,290.01 L493.99,290.26 L494.92,290.51 L495.85,290.76 L496.78,291.01 L497.71,291.25 L498.63,291.50 L499.56,291.74 L500.49,291.98 L501.42,292.22 L502.35,292.46 L503.28,292.69 L504.21,292.93 L505.13,293.16 L506.06,293.39 L506.99,293.62 L507.92,293.84 L508.85,294.07 L509.78,294.29 L510.71,294.51 L511.63,294.73 L512.56,294.94 L513.49,295.16 L514.42,295.37 L515.35,295.58 L516.28,295.78 L517.21,295.99 L518.14,296.19 L519.06,296.39 L519.99,296.58 L520.92,296.78 L521.85,296.97 L522.78,297.15 L523.71,297.34 L524.64,297.52 L525.56,297.70 L526.49,297.88 L527.42,298.05 L528.35,298.22 L529.28,298.38 L530.21,298.55 L531.14,298.71 L532.06,298.87 L532.99,299.02 L533.92,299.17 L534.85,299.32 L535.78,299.46 L536.71,299.60 L537.64,299.73 L538.57,299.87 L539.49,299.99 L540.42,300.12 L541.35,300.24 L542.28,300.36 L543.21,300.47 L544.14,300.58 L545.07,300.69 L545.99,300.79 L546.92,300.89 L547.85,300.98 L548.78,301.08 L549.71,301.16 L550.64,301.25 L551.57,301.33 L552.49,301.41 L553.42,301.49 L554.35,301.56 L555.28,301.63 L556.21,301.70 L557.14,301.76 L558.07,301.82 L559.00,301.88 L559.92,301.93 L560.85,301.99 L561.78,302.04 L562.71,302.08 L563.64,302.13 L564.57,302.17 L565.50,302.21 L566.42,302.25 L567.35,302.29 L568.28,302.32 L569.21,302.35 L570.14,302.38 L571.07,302.41 L572.00,302.43 L572.93,302.46 L573.85,302.48 L574.78,302.50 L575.71,302.52 L576.64,302.53 L577.57,302.55 L578.50,302.56 L579.43,302.57 L580.35,302.58 L581.28,302.59 L582.21,302.60 L583.14,302.61 L584.07,302.61 L585.00,302.61 L585.93,302.62 L586.85,302.62 L587.78,302.62 L588.71,302.62 L589.64,302.62 L590.57,302.62 L591.50,302.62 L592.43,302.61 L593.36,302.61 L594.28,302.61 L595.21,302.60 L596.14,302.60 L597.07,302.59 L598.00,302.58 L598.93,302.58 L599.86,302.57 L600.78,302.57 L601.71,302.56 L602.64,302.55 L603.57,302.55 L604.50,302.54 L605.43,302.53 L606.36,302.53 L607.28,302.52 L608.21,302.52 L609.14,302.51 L610.07,302.51 L611.00,302.50 L611.93,302.50 L612.86,302.50 L613.79,302.49 L614.71,302.49 L615.64,302.49 L616.57,302.49 L617.50,302.49" stroke="#000000"/>
<path d="M432.70,294.08 L433.63,294.23 L434.56,294.37 L435.49,294.50 L436.41,294.64 L437.34,294.77 L438.27,294.91 L439.20,295.04 L440.13,295.17 L441.06,295.30 L441.99,295.42 L442.92,295.55 L443.84,295.67 L444.77,295.80 L445.70,295.92 L446.63,296.04 L447.56,296.16 L448.49,296.27 L449.42,296.39 L450.34,296.50 L451.27,296.61 L452.20,296.72 L453.13,296.83 L454.06,296.94 L454.99,297.05 L455.92,297.16 L456.84,297.26 L457.77,297.36 L458.70,297.46 L459.63,297.56 L460.56,297.66 L461.49,297.76 L462.42,297.86 L463.35,297.95 L464.27,298.04 L465.20,298.14 L466.13,298.23 L467.06,298.32 L467.99,298.41 L468.92,298.49 L469.85,298.58 L470.77,298.66 L471.70,298.75 L472.63,298.83 L473.56,298.91 L474.49,298.99 L475.42,299.07 L476.35,299.15 L477.27,299.22 L478.20,299.30 L479.13,299.37 L480.06,299.45 L480.99,299.52 L481.92,299.59 L482.85,299.66 L483.78,299.73 L484.70,299.79 L485.63,299.86 L486.56,299.93 L487.49,299.99 L488.42,300.05 L489.35,300.11 L490.28,300.18 L491.20,300.24 L492.13,300.29 L493.06,300.35 L493.99,300.41 L494.92,300.47 L495.85,300.52 L496.78,300.57 L497.71,300.63 L498.63,300.68 L499.56,300.73 L500.49,300.78 L501.42,300.83 L502.35,300.88 L503.28,300.92 L504.21,300.97 L505.13,301.02 L506.06,301.06 L506.99,301.10 L507.92,301.15 L508.85,301.19 L509.78,301.23 L510.71,301.27 L511.63,301.31 L512.56,301.35 L513.49,301.39 L514.42,301.42 L515.35,301.46 L516.28,301.49 L517.21,301.53 L518.14,301.56 L519.06,301.59 L519.99,301.63 L520.92,301.66 L521.85,301.69 L522.78,301.72 L523.71,301.75 L524.64,301.78 L525.56,301.80 L526.49,301.83 L527.42,301.86 L528.35,301.88 L529.28,301.91 L530.21,301.93 L531.14,301.96 L532.06,301.98 L532.99,302.00 L533.92,302.02 L534.85,302.04 L535.78,302.07 L536.71,302.09 L537.64,302.10 L538.57,302.12 L539.49,302.14 L540.42,302.16 L541.35,302.18 L542.28,302.19 L543.21,302.21 L544.14,302.22 L545.07,302.24 L545.99,302.25 L546.92,302.27 L547.85,302.28 L548.78,302.29 L549.71,302.31 L550.64,302.32 L551.57,302.33 L552.49,302.34 L553.42,302.35 L554.35,302.36 L555.28,302.37 L556.21,302.38 L557.14,302.39 L558.07,302.40 L559.00,302.40 L559.92,302.41 L560.85,302.42 L561.78,302.43 L562.71,302.43 L563.64,302.44 L564.57,302.44 L565.50,302.45 L566.42,302.46 L567.35,302.46 L568.28,302.46 L569.21,302.47 L570.14,302.47 L571.07,302.48 L572.00,302.48 L572.93,302.48 L573.85,302.49 L574.78,302.49 L575.71,302.49 L576.64,302.49 L577.57,302.50 L578.50,302.50 L579.43,302.50 L580.35,302.50 L581.28,302.50 L582.21,302.50 L583.14,302.50 L584.07,302.50 L585.00,302.51 L585.93,302.51 L586.85,302.51 L587.78,302.51 L588.71,302.51 L589.64,302.51 L590.57,302.51 L591.50,302.51 L592.43,302.51 L593.36,302.51 L594.28,302.51 L595.21,302.50 L596.14,302.50 L597.07,302.50 L598.00,302.50 L598.93,302.50 L599.86,302.50 L600.78,302.50 L601.71,302.50 L602.64,302.50 L603.57,302.50 L604.50,302.50 L605.43,302.50 L606.36,302.50 L607.28,302.50 L608.21,302.50 L609.14,302.50 L610.07,302.50 L611.00,302.50 L611.93,302.50 L612.86,302.50 L613.79,302.50 L614.71,302.50 L615.64,302.50 L616.57,302.50 L617.50,302.50" stroke="#a020f0"/>
<path d="M432.70,302.50 H616.95" stroke="#000" stroke-width="1.1" stroke-dasharray="1.25 2.15"/>
</g>
<path d="M474.65,384.70 v-7.00 M474.65,261.40 v7.00 M443.08,384.70 v-3.50 M443.08,261.40 v3.50 M452.61,384.70 v-3.50 M452.61,261.40 v3.50 M460.86,384.70 v-3.50 M460.86,261.40 v3.50 M468.14,384.70 v-3.50 M468.14,261.40 v3.50 M517.49,384.70 v-3.50 M517.49,261.40 v3.50 M542.54,384.70 v-3.50 M542.54,261.40 v3.50 M560.32,384.70 v-3.50 M560.32,261.40 v3.50 M574.11,384.70 v-3.50 M574.11,261.40 v3.50 M585.38,384.70 v-3.50 M585.38,261.40 v3.50 M594.91,384.70 v-3.50 M594.91,261.40 v3.50 M603.16,384.70 v-3.50 M603.16,261.40 v3.50 M610.44,384.70 v-3.50 M610.44,261.40 v3.50 M432.70,343.60 h7.00 M616.95,343.60 h-7.00 M432.70,302.50 h7.00 M616.95,302.50 h-7.00" stroke="#000" stroke-width="1.35" fill="none"/>
<rect x="432.70" y="261.40" width="184.25" height="123.30" fill="none" stroke="#000" stroke-width="1.70"/>
<g fill="none" stroke-width="1.50">
<path d="M476.7,46.10 H502.5" stroke="#ff0000" stroke-dasharray="3.5 4.8"/>
<path d="M527.4,46.10 H552" stroke="#ff0000" stroke-dasharray="7.3 9.8"/>
<path d="M527.4,79.70 H552" stroke="#0000ff" stroke-dasharray="7.3 9.8"/>
<path d="M527.4,113.10 H552" stroke="#006400" stroke-dasharray="7.3 9.8"/>
<path d="M527.4,146.60 H552" stroke="#000000" stroke-dasharray="7.3 9.8"/>
<path d="M572,46.10 H597.8" stroke="#ff0000"/>
<path d="M572,79.70 H597.8" stroke="#0000ff"/>
<path d="M572,113.10 H597.8" stroke="#006400"/>
<path d="M572,146.60 H597.8" stroke="#000000"/>
<path d="M572,180.00 H597.8" stroke="#a020f0"/>
</g>
<g font-family="'Liberation Serif', serif" fill="#000" opacity="0.995" stroke="#fff" stroke-width="0.18">
<text transform="translate(59.22,29.45) scale(1.1092,1)" font-size="21.20">0.1</text>
<text transform="translate(47.94,123.75) scale(1.0830,1)" font-size="21.20">0.05</text>
<text transform="translate(76.50,218.05) scale(1.1321,1)" font-size="21.20">0</text>
<text transform="translate(47.94,312.35) scale(1.0830,1)" font-size="21.20">0.05</text><path d="M32.90,306.35 H46.80" stroke="#000" stroke-width="1.00" fill="none"/>
<text transform="translate(59.22,406.65) scale(1.1092,1)" font-size="21.20">0.1</text><path d="M44.20,400.65 H58.10" stroke="#000" stroke-width="1.00" fill="none"/>
<text transform="translate(78.69,446.50) scale(1.0566,1)" font-size="21.20">10</text><path d="M102.75,434.20 H112.85" stroke="#000" stroke-width="0.90" fill="none"/><text transform="translate(116.01,438.00) scale(1.1231,1)" font-size="14.60">5</text>
<text transform="translate(184.20,446.50) scale(1.0566,1)" font-size="21.20">10</text><path d="M208.26,434.20 H218.36" stroke="#000" stroke-width="0.90" fill="none"/><text transform="translate(221.13,438.00) scale(1.1195,1)" font-size="14.60">4</text>
<text transform="translate(289.71,446.50) scale(1.0566,1)" font-size="21.20">10</text><path d="M313.77,434.20 H323.87" stroke="#000" stroke-width="0.90" fill="none"/><text transform="translate(327.21,438.00) scale(1.0959,1)" font-size="14.60">3</text>
<text transform="translate(395.22,446.50) scale(1.0566,1)" font-size="21.20">10</text><path d="M419.28,434.20 H429.38" stroke="#000" stroke-width="0.90" fill="none"/><text transform="translate(432.74,438.00) scale(1.1301,1)" font-size="14.60">2</text>
<text transform="translate(500.73,446.50) scale(1.0566,1)" font-size="21.20">10</text><path d="M524.79,434.20 H534.89" stroke="#000" stroke-width="0.90" fill="none"/><text transform="translate(537.90,438.00) scale(1.0881,1)" font-size="14.60">1</text>
<text transform="translate(623.51,446.50) scale(0.9099,1)" font-size="21.20">1</text>
<text transform="translate(359.60,468.90) scale(1.0862,1)" font-size="22.30" font-style="italic">x</text>
<text transform="translate(367.26,267.30) scale(1.0563,1)" font-size="21.20">0.001</text>
<text transform="translate(405.70,309.60) scale(1.1321,1)" font-size="21.20">0</text>
<text transform="translate(367.26,350.10) scale(1.0563,1)" font-size="21.20">0.001</text><path d="M352.20,344.10 H366.10" stroke="#000" stroke-width="1.00" fill="none"/>
<text transform="translate(367.36,391.20) scale(1.0626,1)" font-size="21.20">0.002</text><path d="M352.30,385.20 H366.20" stroke="#000" stroke-width="1.00" fill="none"/>
<text transform="translate(449.84,413.20) scale(1.0566,1)" font-size="21.20">10</text><path d="M473.90,400.90 H484.00" stroke="#000" stroke-width="0.90" fill="none"/><text transform="translate(487.01,404.70) scale(1.0881,1)" font-size="14.60">1</text>
<text transform="translate(610.51,413.30) scale(0.9099,1)" font-size="21.20">1</text>
<text transform="translate(189.83,29.50) scale(1.1667,1)" font-size="22.90" font-style="italic">Q</text>
<text transform="translate(209.68,20.90) scale(1.0959,1)" font-size="14.60">2</text>
<path d="M225.30,20.80 H240.50" stroke="#000" stroke-width="0.95" fill="none"/><path d="M225.30,26.20 H240.50" stroke="#000" stroke-width="0.95" fill="none"/>
<text transform="translate(247.43,29.50) scale(1.0086,1)" font-size="21.20">100</text>
<text transform="translate(284.41,29.50) scale(0.9971,1)" font-size="22.30">GeV</text>
<text transform="translate(327.48,20.90) scale(1.0959,1)" font-size="14.60">2</text>
<text transform="translate(476.93,29.10) scale(1.2503,1)" font-size="20.60" font-style="italic">α</text><text transform="translate(492.88,32.60) scale(1.2309,1)" font-size="14.60" font-style="italic">s</text>
<text transform="translate(527.03,29.10) scale(1.2503,1)" font-size="20.60" font-style="italic">α</text><text transform="translate(542.56,35.00) scale(1.2777,1)" font-size="15.20" font-style="italic">s</text><text transform="translate(541.28,21.40) scale(1.1406,1)" font-size="16.00">2</text>
<text transform="translate(571.73,29.10) scale(1.2503,1)" font-size="20.60" font-style="italic">α</text><text transform="translate(587.26,35.00) scale(1.2777,1)" font-size="15.20" font-style="italic">s</text><text transform="translate(585.96,21.40) scale(1.1061,1)" font-size="16.00">3</text>
<text transform="translate(376.55,52.90) scale(1.1064,1)" font-size="22.90" font-style="italic">H</text><text transform="translate(395.57,44.20) scale(1.2004,1)" font-size="15.20">S</text><text transform="translate(394.80,58.40) scale(1.2533,1)" font-size="14.60" font-style="italic">g</text><text transform="translate(403.98,58.40) scale(0.8838,1)" font-size="14.60" font-style="italic">,</text><text transform="translate(408.99,58.40) scale(1.2456,1)" font-size="14.90" font-style="italic">F</text><text transform="translate(420.27,61.00) scale(1.3462,1)" font-size="10.40">2</text><path d="M431.00,58.20 L438.90,36.30" stroke="#000" stroke-width="1.0" fill="none"/><text transform="translate(440.17,52.90) scale(1.0745,1)" font-size="21.20">20</text>
<text transform="translate(410.85,85.50) scale(1.1064,1)" font-size="22.90" font-style="italic">H</text><text transform="translate(430.49,76.80) scale(1.3416,1)" font-size="15.20">PS</text><text transform="translate(428.59,91.00) scale(1.0835,1)" font-size="14.60" font-style="italic">q</text><text transform="translate(438.28,91.00) scale(0.8838,1)" font-size="14.60" font-style="italic">,</text><text transform="translate(443.29,91.00) scale(1.2456,1)" font-size="14.90" font-style="italic">F</text><text transform="translate(454.57,93.60) scale(1.3462,1)" font-size="10.40">2</text>
<text transform="translate(414.41,118.70) scale(1.0917,1)" font-size="22.90" font-style="italic">L</text><text transform="translate(428.66,110.00) scale(1.1745,1)" font-size="15.20">NS</text><text transform="translate(428.19,124.20) scale(1.0835,1)" font-size="14.60" font-style="italic">q</text><text transform="translate(437.88,124.20) scale(0.8838,1)" font-size="14.60" font-style="italic">,</text><text transform="translate(442.89,124.20) scale(1.2456,1)" font-size="14.90" font-style="italic">F</text><text transform="translate(453.57,126.80) scale(1.3462,1)" font-size="10.40">2</text>
<text transform="translate(414.41,151.90) scale(1.0917,1)" font-size="22.90" font-style="italic">L</text><text transform="translate(427.97,143.20) scale(1.2004,1)" font-size="15.20">S</text><text transform="translate(428.70,157.40) scale(1.2533,1)" font-size="14.60" font-style="italic">g</text><text transform="translate(437.88,157.40) scale(0.8838,1)" font-size="14.60" font-style="italic">,</text><text transform="translate(442.89,157.40) scale(1.2456,1)" font-size="14.90" font-style="italic">F</text><text transform="translate(453.57,160.00) scale(1.3462,1)" font-size="10.40">2</text>
<text transform="translate(414.41,185.20) scale(1.0917,1)" font-size="22.90" font-style="italic">L</text><text transform="translate(428.59,176.50) scale(1.3416,1)" font-size="15.20">PS</text><text transform="translate(428.19,190.70) scale(1.0835,1)" font-size="14.60" font-style="italic">q</text><text transform="translate(437.88,190.70) scale(0.8838,1)" font-size="14.60" font-style="italic">,</text><text transform="translate(442.89,190.70) scale(1.2456,1)" font-size="14.90" font-style="italic">F</text><text transform="translate(453.57,193.30) scale(1.3462,1)" font-size="10.40">2</text>
<g transform="translate(28.7,301.5) rotate(-90)"><text transform="translate(0.09,0.00) scale(0.8245,1)" font-size="22.90" font-style="italic">F</text><text transform="translate(12.00,5.20) scale(1.0616,1)" font-size="14.60">2</text><text transform="translate(13.06,-7.90) scale(0.8675,1)" font-size="16.60">c</text><text transform="translate(22.64,0.40) scale(1.0784,1)" font-size="24.00">(</text><text transform="translate(35.60,0.00) scale(1.0762,1)" font-size="22.30" font-style="italic">x</text><text transform="translate(48.05,0.00) scale(0.7522,1)" font-size="22.30" font-style="italic">,</text><text transform="translate(55.59,0.00) scale(1.0386,1)" font-size="22.90" font-style="italic">Q</text><text transform="translate(73.08,-8.20) scale(1.0959,1)" font-size="14.60">2</text><text transform="translate(85.85,0.00) scale(0.7522,1)" font-size="22.30" font-style="italic">,</text><text transform="translate(93.40,0.00) scale(1.2566,1)" font-size="22.30" font-style="italic">μ</text><text transform="translate(107.28,-8.20) scale(1.0959,1)" font-size="14.60">2</text><path d="M124.30,-8.50 H138.70" stroke="#000" stroke-width="0.95" fill="none"/><path d="M124.30,-3.10 H138.70" stroke="#000" stroke-width="0.95" fill="none"/><text transform="translate(146.19,0.00) scale(1.0386,1)" font-size="22.90" font-style="italic">Q</text><text transform="translate(163.68,-8.20) scale(1.0959,1)" font-size="14.60">2</text><text transform="translate(173.57,0.40) scale(1.0680,1)" font-size="24.00">)</text></g>
</g>
</svg>
</body></html>
